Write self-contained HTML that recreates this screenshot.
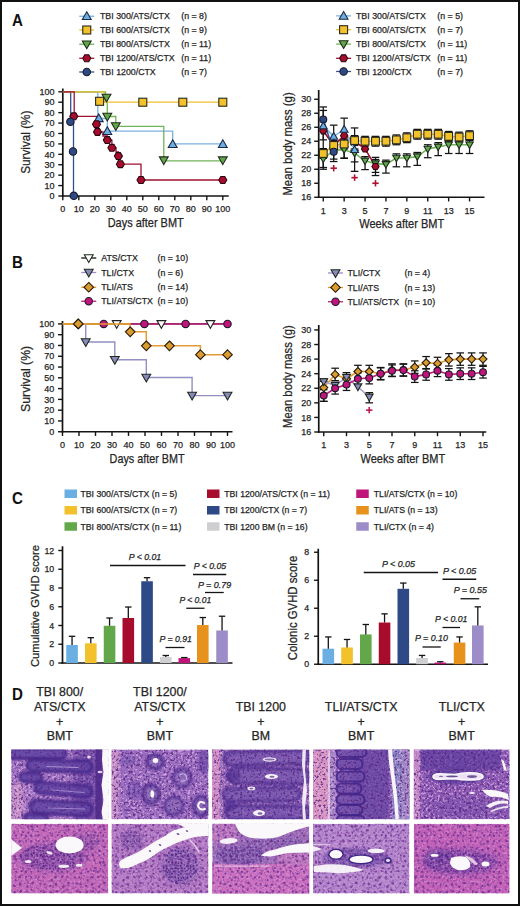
<!DOCTYPE html>
<html><head><meta charset="utf-8"><title>Figure</title>
<style>
html,body{margin:0;padding:0;background:#fff;}
body{width:520px;height:906px;overflow:hidden;}
svg{display:block;font-family:"Liberation Sans", sans-serif;}
text{stroke:#2a2a2a;stroke-width:0.25px;}
</style></head>
<body>
<svg width="520" height="906" viewBox="0 0 520 906">
<defs>
<filter id="dk" color-interpolation-filters="sRGB" filterUnits="userSpaceOnUse" x="0" y="740" width="520" height="160">
<feTurbulence type="fractalNoise" baseFrequency="0.42" numOctaves="2" seed="4"/>
<feColorMatrix type="matrix" values="0 0 0 0 0.34  0 0 0 0 0.15  0 0 0 0 0.5  6 0 0 0 -3.2"/><feGaussianBlur stdDeviation="0.7"/></filter>
<filter id="lt" color-interpolation-filters="sRGB" filterUnits="userSpaceOnUse" x="0" y="740" width="520" height="160">
<feTurbulence type="fractalNoise" baseFrequency="0.42" numOctaves="2" seed="11"/>
<feColorMatrix type="matrix" values="0 0 0 0 0.88  0 0 0 0 0.72  0 0 0 0 0.9  6 0 0 0 -3.1"/><feGaussianBlur stdDeviation="0.7"/></filter>
<filter id="dk2" color-interpolation-filters="sRGB" filterUnits="userSpaceOnUse" x="0" y="740" width="520" height="160">
<feTurbulence type="fractalNoise" baseFrequency="0.4" numOctaves="2" seed="21"/>
<feColorMatrix type="matrix" values="0 0 0 0 0.44  0 0 0 0 0.2  0 0 0 0 0.58  7 0 0 0 -3.7"/><feGaussianBlur stdDeviation="0.6"/></filter>
<pattern id="hep" patternUnits="userSpaceOnUse" x="0" y="0" width="36" height="36"><g fill="#6a2c8e"><circle cx="1.6" cy="3.6" r="0.93"/><circle cx="37.6" cy="3.6" r="0.93"/><circle cx="2.5" cy="7.2" r="1.13"/><circle cx="2.7" cy="13.3" r="0.94"/><circle cx="4.3" cy="19.5" r="1.00"/><circle cx="4.8" cy="27.3" r="1.08"/><circle cx="1.2" cy="34.4" r="1.03"/><circle cx="1.2" cy="-1.6" r="1.03"/><circle cx="37.2" cy="-1.6" r="1.03"/><circle cx="37.2" cy="34.4" r="1.03"/><circle cx="7.5" cy="2.2" r="1.27"/><circle cx="9.3" cy="9.6" r="1.07"/><circle cx="7.3" cy="13.2" r="0.99"/><circle cx="8.7" cy="20.3" r="1.16"/><circle cx="8.2" cy="28.2" r="1.21"/><circle cx="9.3" cy="33.1" r="1.29"/><circle cx="14.2" cy="4.9" r="0.95"/><circle cx="16.0" cy="7.6" r="1.12"/><circle cx="15.7" cy="16.1" r="1.16"/><circle cx="14.3" cy="21.8" r="1.17"/><circle cx="14.8" cy="28.4" r="1.33"/><circle cx="15.7" cy="31.2" r="1.22"/><circle cx="23.0" cy="4.3" r="1.03"/><circle cx="21.7" cy="7.1" r="1.11"/><circle cx="19.5" cy="13.2" r="1.25"/><circle cx="20.0" cy="20.6" r="1.29"/><circle cx="20.8" cy="27.2" r="1.30"/><circle cx="22.5" cy="32.1" r="1.09"/><circle cx="28.5" cy="4.8" r="0.97"/><circle cx="25.9" cy="7.9" r="1.12"/><circle cx="26.1" cy="13.0" r="1.09"/><circle cx="27.3" cy="22.8" r="1.21"/><circle cx="27.5" cy="27.7" r="0.92"/><circle cx="28.1" cy="34.5" r="1.26"/><circle cx="28.1" cy="-1.5" r="1.26"/><circle cx="32.6" cy="1.4" r="1.19"/><circle cx="32.6" cy="37.4" r="1.19"/><circle cx="31.3" cy="7.8" r="0.97"/><circle cx="31.2" cy="13.0" r="0.97"/><circle cx="32.5" cy="19.1" r="1.29"/><circle cx="31.6" cy="26.0" r="1.06"/><circle cx="31.5" cy="34.4" r="1.35"/><circle cx="31.5" cy="-1.6" r="1.35"/></g></pattern>
<filter id="b04" filterUnits="userSpaceOnUse" x="0" y="740" width="520" height="160"><feGaussianBlur stdDeviation="0.45"/></filter>
<pattern id="inf" patternUnits="userSpaceOnUse" x="0" y="0" width="27" height="27"><g fill="#44207e"><circle cx="1.6" cy="2.3" r="0.84"/><circle cx="28.6" cy="2.3" r="0.84"/><circle cx="1.7" cy="3.9" r="0.85"/><circle cx="28.7" cy="3.9" r="0.85"/><circle cx="2.1" cy="6.7" r="0.79"/><circle cx="1.9" cy="12.6" r="0.99"/><circle cx="28.9" cy="12.6" r="0.99"/><circle cx="1.8" cy="16.7" r="0.75"/><circle cx="28.8" cy="16.7" r="0.75"/><circle cx="0.6" cy="21.9" r="0.77"/><circle cx="27.6" cy="21.9" r="0.77"/><circle cx="4.4" cy="2.2" r="0.86"/><circle cx="4.5" cy="4.8" r="0.84"/><circle cx="5.5" cy="8.5" r="0.95"/><circle cx="4.1" cy="10.0" r="0.79"/><circle cx="4.3" cy="17.2" r="0.82"/><circle cx="5.2" cy="18.5" r="0.76"/><circle cx="4.4" cy="23.5" r="0.82"/><circle cx="8.1" cy="1.0" r="0.73"/><circle cx="8.1" cy="28.0" r="0.73"/><circle cx="8.4" cy="5.0" r="0.74"/><circle cx="6.7" cy="6.6" r="0.94"/><circle cx="7.6" cy="10.4" r="0.76"/><circle cx="6.8" cy="13.8" r="0.73"/><circle cx="6.9" cy="16.0" r="0.99"/><circle cx="7.1" cy="20.3" r="0.76"/><circle cx="8.2" cy="22.8" r="0.73"/><circle cx="6.9" cy="25.0" r="0.93"/><circle cx="6.9" cy="-2.0" r="0.93"/><circle cx="10.1" cy="0.6" r="0.73"/><circle cx="10.1" cy="27.6" r="0.73"/><circle cx="10.0" cy="4.7" r="0.81"/><circle cx="11.4" cy="7.5" r="0.87"/><circle cx="9.9" cy="9.8" r="0.97"/><circle cx="10.0" cy="12.9" r="0.92"/><circle cx="9.9" cy="17.4" r="0.96"/><circle cx="10.3" cy="18.7" r="0.71"/><circle cx="10.0" cy="22.9" r="0.78"/><circle cx="10.7" cy="25.1" r="0.75"/><circle cx="10.7" cy="-1.9" r="0.75"/><circle cx="12.6" cy="1.0" r="0.87"/><circle cx="12.6" cy="28.0" r="0.87"/><circle cx="13.7" cy="4.1" r="0.98"/><circle cx="12.5" cy="7.0" r="0.83"/><circle cx="13.2" cy="13.6" r="0.74"/><circle cx="14.3" cy="17.5" r="0.90"/><circle cx="13.7" cy="18.8" r="0.71"/><circle cx="13.9" cy="26.4" r="0.71"/><circle cx="13.9" cy="-0.6" r="0.71"/><circle cx="16.5" cy="2.0" r="0.80"/><circle cx="16.5" cy="29.0" r="0.80"/><circle cx="15.7" cy="4.6" r="0.92"/><circle cx="17.0" cy="7.9" r="0.94"/><circle cx="16.2" cy="10.9" r="0.97"/><circle cx="16.3" cy="14.1" r="0.96"/><circle cx="16.7" cy="16.3" r="0.87"/><circle cx="15.7" cy="19.8" r="1.00"/><circle cx="17.0" cy="22.3" r="0.92"/><circle cx="16.4" cy="26.2" r="0.73"/><circle cx="16.4" cy="-0.8" r="0.73"/><circle cx="18.6" cy="1.7" r="0.84"/><circle cx="18.6" cy="28.7" r="0.84"/><circle cx="19.9" cy="4.5" r="0.88"/><circle cx="19.0" cy="6.5" r="0.79"/><circle cx="18.9" cy="9.8" r="0.97"/><circle cx="19.4" cy="14.3" r="0.80"/><circle cx="18.9" cy="16.4" r="0.94"/><circle cx="20.3" cy="19.3" r="0.87"/><circle cx="18.8" cy="22.5" r="0.95"/><circle cx="19.9" cy="26.4" r="0.78"/><circle cx="19.9" cy="-0.6" r="0.78"/><circle cx="22.4" cy="1.1" r="0.76"/><circle cx="22.4" cy="28.1" r="0.76"/><circle cx="22.8" cy="4.5" r="0.79"/><circle cx="23.5" cy="7.4" r="0.72"/><circle cx="21.6" cy="13.9" r="0.87"/><circle cx="23.1" cy="15.5" r="0.74"/><circle cx="21.5" cy="20.2" r="0.77"/><circle cx="25.4" cy="1.8" r="0.90"/><circle cx="-1.6" cy="1.8" r="0.90"/><circle cx="-1.6" cy="28.8" r="0.90"/><circle cx="25.4" cy="28.8" r="0.90"/><circle cx="26.4" cy="4.9" r="0.76"/><circle cx="-0.6" cy="4.9" r="0.76"/><circle cx="24.9" cy="6.5" r="0.84"/><circle cx="24.9" cy="10.0" r="0.80"/><circle cx="25.5" cy="13.7" r="0.93"/><circle cx="-1.5" cy="13.7" r="0.93"/><circle cx="26.1" cy="17.3" r="0.73"/><circle cx="-0.9" cy="17.3" r="0.73"/><circle cx="25.9" cy="18.8" r="0.84"/><circle cx="-1.1" cy="18.8" r="0.84"/><circle cx="26.3" cy="22.3" r="0.87"/><circle cx="-0.7" cy="22.3" r="0.87"/><circle cx="26.1" cy="26.4" r="0.84"/><circle cx="-0.9" cy="-0.6" r="0.84"/><circle cx="-0.9" cy="26.4" r="0.84"/><circle cx="26.1" cy="-0.6" r="0.84"/></g></pattern>
<filter id="b05" filterUnits="userSpaceOnUse" x="0" y="740" width="520" height="160"><feGaussianBlur stdDeviation="0.6"/></filter>
<filter id="bl1" filterUnits="userSpaceOnUse" x="0" y="740" width="520" height="160"><feGaussianBlur stdDeviation="1.2"/></filter>
<filter id="bl2" filterUnits="userSpaceOnUse" x="0" y="740" width="520" height="160"><feGaussianBlur stdDeviation="2.5"/></filter>
<clipPath id="cp00"><rect x="11.25" y="749.5" width="96.95" height="69.70"/></clipPath>
<clipPath id="cp10"><rect x="111.5" y="749.5" width="96.90" height="69.70"/></clipPath>
<clipPath id="cp20"><rect x="212.3" y="749.5" width="97.00" height="69.70"/></clipPath>
<clipPath id="cp30"><rect x="313.0" y="749.5" width="96.40" height="69.70"/></clipPath>
<clipPath id="cp40"><rect x="413.8" y="749.5" width="95.80" height="69.70"/></clipPath>
<clipPath id="cp01"><rect x="11.25" y="823.8" width="96.95" height="69.70"/></clipPath>
<clipPath id="cp11"><rect x="111.5" y="823.8" width="96.90" height="69.70"/></clipPath>
<clipPath id="cp21"><rect x="212.3" y="823.8" width="97.00" height="69.70"/></clipPath>
<clipPath id="cp31"><rect x="313.0" y="823.8" width="96.40" height="69.70"/></clipPath>
<clipPath id="cp41"><rect x="413.8" y="823.8" width="95.80" height="69.70"/></clipPath>
</defs>
<rect x="0" y="0" width="520" height="906" fill="#111"/>
<rect x="2" y="2" width="516" height="902" fill="#ffffff"/>
<g clip-path="url(#cp00)">
<rect x="11.25" y="749.5" width="96.95" height="69.70" fill="#a072c2"/>
<rect x="11" y="782" width="12" height="40" fill="#cc94c8" opacity="0.9" filter="url(#bl2)"/>
<rect x="76" y="749" width="26" height="71" fill="#7048a4" opacity="0.6" filter="url(#bl1)"/>
<rect x="11.25" y="749.5" width="96.95" height="69.70" filter="url(#lt)" opacity="0.7"/>
<rect x="72" y="749" width="28" height="71" fill="#6a44a4" opacity="0.55" filter="url(#bl1)"/>
<rect x="8" y="748.5" width="58" height="10" rx="5.0" fill="#6446a6" stroke="#3e2088" stroke-width="3" opacity="0.9" transform="rotate(0 37.0 753.5)" filter="url(#bl1)"/>
<rect x="27" y="760.5" width="65" height="11" rx="5.5" fill="#6446a6" stroke="#3e2088" stroke-width="3" opacity="0.9" transform="rotate(1.5 59.5 766)" filter="url(#bl1)"/>
<rect x="20" y="773.0" width="22" height="9" rx="4.5" fill="#6446a6" stroke="#3e2088" stroke-width="3" opacity="0.9" transform="rotate(3 31.0 777.5)" filter="url(#bl1)"/>
<rect x="35" y="784.0" width="57" height="11" rx="5.5" fill="#6446a6" stroke="#3e2088" stroke-width="3" opacity="0.9" transform="rotate(5 63.5 789.5)" filter="url(#bl1)"/>
<rect x="30" y="801.5" width="62" height="13" rx="6.5" fill="#6446a6" stroke="#3e2088" stroke-width="3" opacity="0.9" transform="rotate(3 61.0 808)" filter="url(#bl1)"/>
<rect x="24" y="814.5" width="24" height="8" rx="4.0" fill="#6446a6" stroke="#3e2088" stroke-width="3" opacity="0.9" transform="rotate(2 36.0 818.5)" filter="url(#bl1)"/>
<rect x="95.5" y="749" width="7" height="71" fill="#4e2a8a" opacity="0.85" filter="url(#b05)"/>
<rect x="11.25" y="749.5" width="96.95" height="69.70" filter="url(#dk)" opacity="0.75"/>
<path d="M102.5,749 L109,749 L109,820 L103,820 L101.5,812 L103.5,800 L101.5,785 L103.5,772 L102,760 Z" fill="#fbf8fc" opacity="1"/>
<path d="M47,766.5 L78,767.5" fill="none" stroke="#c8b0e4" stroke-width="1.2" stroke-linecap="round" opacity="0.7"/>
<path d="M52,790 L84,792.5" fill="none" stroke="#c8b0e4" stroke-width="1.2" stroke-linecap="round" opacity="0.55"/>
<path d="M48,808 L85,809" fill="none" stroke="#c8b0e4" stroke-width="1.2" stroke-linecap="round" opacity="0.55"/>
<ellipse cx="89" cy="757" rx="1.8" ry="1.5" fill="#fbf8fc" opacity="0.8"/>
<ellipse cx="100" cy="772" rx="2.5" ry="1.2" fill="#fbf8fc" opacity="0.8"/>
</g>
<g clip-path="url(#cp10)">
<rect x="111.5" y="749.5" width="96.90" height="69.70" fill="#9a6cc0"/>
<rect x="111" y="749" width="8" height="71" fill="#cc94c8" opacity="0.9" filter="url(#bl1)"/>
<rect x="111.5" y="749.5" width="96.90" height="69.70" filter="url(#lt)" opacity="0.7"/>
<ellipse cx="155" cy="762" rx="8" ry="7" fill="#8868b8" stroke="#46268c" stroke-width="3.4" opacity="0.8" filter="url(#bl1)"/>
<ellipse cx="182" cy="778" rx="9" ry="9" fill="#8868b8" stroke="#46268c" stroke-width="3.4" opacity="0.7" filter="url(#bl1)"/>
<ellipse cx="151" cy="794" rx="8" ry="9.5" fill="#8868b8" stroke="#46268c" stroke-width="3.4" opacity="0.8" filter="url(#bl1)"/>
<ellipse cx="174" cy="806" rx="9" ry="9" fill="#8868b8" stroke="#46268c" stroke-width="3.4" opacity="0.7" filter="url(#bl1)"/>
<ellipse cx="201" cy="806" rx="8" ry="9.5" fill="#8868b8" stroke="#46268c" stroke-width="3.4" opacity="0.8" filter="url(#bl1)"/>
<ellipse cx="134" cy="790" rx="8" ry="10" fill="#6a48a8" opacity="0.5" filter="url(#bl1)"/>
<ellipse cx="204" cy="762" rx="6" ry="12" fill="#5a3a9c" opacity="0.55" filter="url(#bl1)"/>
<ellipse cx="128" cy="760" rx="8" ry="6" fill="#7050a8" opacity="0.5" filter="url(#bl1)"/>
<rect x="111.5" y="749.5" width="96.90" height="69.70" filter="url(#dk)" opacity="0.8"/>
<ellipse cx="155.5" cy="760.5" rx="2.8" ry="2.5" fill="#fbf8fc" opacity="1"/>
<ellipse cx="152.3" cy="794" rx="1.9" ry="3.8" fill="#fbf8fc" opacity="1"/>
<path d="M204,803 Q199,800 198,806 Q200,811 205,809" fill="none" stroke="#fbf8fc" stroke-width="2.0" stroke-linecap="round" opacity="1"/>
<path d="M180,775 Q184,772 187,777 Q186,782 181,781" fill="none" stroke="#d8c4ec" stroke-width="1.1" stroke-linecap="round" opacity="0.8"/>
</g>
<g clip-path="url(#cp20)">
<rect x="212.3" y="749.5" width="97.00" height="69.70" fill="#9466ba"/>
<rect x="212" y="749" width="7.5" height="71" fill="#d48ec4" opacity="0.95" filter="url(#b05)"/>
<rect x="219" y="749" width="4" height="71" fill="#b080c0" opacity="0.6" filter="url(#b05)"/>
<rect x="212.3" y="749.5" width="97.00" height="69.70" filter="url(#lt)" opacity="0.7"/>
<rect x="224" y="751.5" width="86" height="13" rx="6.5" fill="#7454ae" stroke="#3e2088" stroke-width="3" opacity="0.75" transform="rotate(-1 267.0 758)" filter="url(#bl1)"/>
<rect x="228" y="768.5" width="82" height="15" rx="7.5" fill="#7454ae" stroke="#3e2088" stroke-width="3" opacity="0.75" transform="rotate(1 269.0 776)" filter="url(#bl1)"/>
<rect x="223" y="788.0" width="77" height="13" rx="6.5" fill="#7454ae" stroke="#3e2088" stroke-width="3" opacity="0.75" transform="rotate(-1 261.5 794.5)" filter="url(#bl1)"/>
<rect x="226" y="806.0" width="84" height="13" rx="6.5" fill="#7454ae" stroke="#3e2088" stroke-width="3" opacity="0.75" transform="rotate(0 268.0 812.5)" filter="url(#bl1)"/>
<ellipse cx="233" cy="776" rx="8" ry="6" fill="#4a2a90" opacity="0.55" filter="url(#bl1)"/>
<ellipse cx="230" cy="806" rx="7" ry="6" fill="#4a2a90" opacity="0.55" filter="url(#bl1)"/>
<rect x="212.3" y="749.5" width="97.00" height="69.70" filter="url(#dk)" opacity="0.8"/>
<ellipse cx="269.6" cy="759.5" rx="7" ry="2.2" fill="#f4eef8" opacity="0.95"/>
<ellipse cx="269.6" cy="759.5" rx="5" ry="0.9" fill="#5a3a90" opacity="0.7"/>
<ellipse cx="271.5" cy="776.5" rx="6.5" ry="2.6" fill="#fbf8fc" opacity="0.97"/>
<ellipse cx="272" cy="776.8" rx="2.5" ry="1" fill="#4a2a80" opacity="0.7"/>
<ellipse cx="251.3" cy="788.4" rx="4" ry="1.9" fill="#f4eef8" opacity="0.95"/>
<ellipse cx="251.3" cy="788.6" rx="2" ry="0.8" fill="#4a2a80" opacity="0.7"/>
<ellipse cx="259" cy="813" rx="6" ry="3" fill="#fbf8fc" opacity="0.97"/>
<ellipse cx="260" cy="813.5" rx="2.5" ry="1.3" fill="#4a2a80" opacity="0.7"/>
<path d="M302.5,749 L306,749 L305,770 L307,790 L305,808 L306,820 L303,820 L302,800 L304,780 L302,765 Z" fill="#fbf8fc" opacity="0.9"/>
</g>
<g clip-path="url(#cp30)">
<rect x="313.0" y="749.5" width="96.40" height="69.70" fill="#8c5eb6"/>
<rect x="313" y="749" width="16" height="71" fill="#da94c2" opacity="1" filter="url(#b05)"/>
<rect x="330" y="749" width="6" height="71" fill="#ac8ccc" opacity="0.9" filter="url(#b05)"/>
<rect x="392" y="749" width="18" height="71" fill="#8a84c4" opacity="0.95" filter="url(#b05)"/>
<rect x="402" y="749" width="8" height="71" fill="#a484c4" opacity="0.8" filter="url(#b05)"/>
<rect x="313.0" y="749.5" width="96.40" height="69.70" filter="url(#lt)" opacity="0.7"/>
<rect x="352" y="749" width="37" height="71" fill="#6644a2" opacity="0.75" filter="url(#bl1)"/>
<rect x="336.5" y="747" width="30" height="10" rx="5" fill="#7050aa" stroke="#3e2288" stroke-width="2.2" opacity="0.8" filter="url(#b05)"/>
<rect x="336.5" y="759" width="26" height="10" rx="5" fill="#7050aa" stroke="#3e2288" stroke-width="2.2" opacity="0.8" filter="url(#b05)"/>
<rect x="336.5" y="771.5" width="28" height="10" rx="5" fill="#7050aa" stroke="#3e2288" stroke-width="2.2" opacity="0.8" filter="url(#b05)"/>
<rect x="336.5" y="783.5" width="25" height="10" rx="5" fill="#7050aa" stroke="#3e2288" stroke-width="2.2" opacity="0.8" filter="url(#b05)"/>
<rect x="336.5" y="794.5" width="28" height="10" rx="5" fill="#7050aa" stroke="#3e2288" stroke-width="2.2" opacity="0.8" filter="url(#b05)"/>
<rect x="336.5" y="805" width="26" height="10" rx="5" fill="#7050aa" stroke="#3e2288" stroke-width="2.2" opacity="0.8" filter="url(#b05)"/>
<rect x="336.5" y="815.5" width="28" height="10" rx="5" fill="#7050aa" stroke="#3e2288" stroke-width="2.2" opacity="0.8" filter="url(#b05)"/>
<rect x="313.0" y="749.5" width="96.40" height="69.70" filter="url(#dk)" opacity="0.8"/>
<rect x="328.3" y="749" width="1.6" height="71" fill="#f4eaf4" opacity="0.8"/>
<path d="M388,749 L392,749 L394,770 L397,795 L399,820 L395.5,820 L394,800 L391.5,780 L389,762 Z" fill="#fbf8fc" opacity="0.97"/>
</g>
<g clip-path="url(#cp40)">
<rect x="413.8" y="749.5" width="95.80" height="69.70" fill="#8c5ab4"/>
<rect x="413" y="749" width="7" height="71" fill="#c98cc8" opacity="0.9" filter="url(#b05)"/>
<rect x="413.8" y="749.5" width="95.80" height="69.70" filter="url(#lt)" opacity="0.7"/>
<rect x="421" y="749" width="80" height="21" fill="#5c3a9e" opacity="0.7" filter="url(#bl1)"/>
<ellipse cx="457" cy="776" rx="30" ry="8" fill="#583a9c" opacity="0.7" filter="url(#bl1)"/>
<ellipse cx="470" cy="808" rx="40" ry="10" fill="#7650ac" opacity="0.45" filter="url(#bl2)"/>
<rect x="413.8" y="749.5" width="95.80" height="69.70" filter="url(#dk)" opacity="0.8"/>
<path d="M433,776.5 Q433,773.6 440,773.8 L455,774.6 Q462,772.6 470,772.8 Q483,773 483,776.5 Q483,780 470,780 Q462,780.2 455,778.6 L440,779.2 Q433,779.5 433,776.5 Z" fill="#ece2f4" stroke="#fbf8fc" stroke-width="1.6"/>
<ellipse cx="452" cy="776.4" rx="6" ry="0.8" fill="#3a1a70" opacity="0.75"/>
<ellipse cx="472" cy="776.6" rx="5" ry="1.4" fill="#4a2a80" opacity="0.75"/>
<ellipse cx="441" cy="776.4" rx="2" ry="0.7" fill="#3a1a70" opacity="0.6"/>
<path d="M482,790 Q496,789 508,794 L509,800 Q500,796 492,797 Q487,796 482,790 Z" fill="#fbf8fc" opacity="1"/>
<path d="M486,806 Q496,799 508,801 L508,804 Q499,802 490,808 Z" fill="#fbf8fc" opacity="0.95"/>
<path d="M490,811 Q500,806 508,806 L508,808 Q500,808 492,812 Z" fill="#fbf8fc" opacity="0.85"/>
<path d="M501,759 L504,761 L507,771 L504,770 Z" fill="#fbf8fc" opacity="1"/>
<ellipse cx="472" cy="793" rx="3" ry="1" fill="#fbf8fc" opacity="0.9"/>
</g>
<g clip-path="url(#cp01)">
<rect x="11.25" y="823.8" width="96.95" height="69.70" fill="#c468b8"/>
<ellipse cx="52" cy="857" rx="34" ry="14" fill="#7a4ca6" opacity="0.55" filter="url(#bl2)"/>
<ellipse cx="85" cy="842" rx="16" ry="9" fill="#8c5aac" opacity="0.45" filter="url(#bl2)"/>
<rect x="11.25" y="823.8" width="96.95" height="69.70" filter="url(#lt)" opacity="0.35"/>
<rect x="11.25" y="823.8" width="96.95" height="69.70" filter="url(#dk2)" opacity="0.45"/>
<rect x="11.25" y="823.8" width="96.95" height="69.70" fill="url(#hep)" opacity="0.75" filter="url(#b04)"/>
<ellipse cx="52" cy="857" rx="33" ry="13" fill="url(#inf)" opacity="0.75" filter="url(#b04)"/>
<ellipse cx="85" cy="842" rx="14" ry="8" fill="url(#inf)" opacity="0.5" filter="url(#b04)"/>
<ellipse cx="69.6" cy="845" rx="14" ry="8.4" fill="#fbf8fc" opacity="1"/>
<path d="M11,839 L22,848 L11,856 Z" fill="#fbf8fc" opacity="1"/>
<ellipse cx="28.3" cy="861.4" rx="3.3" ry="1.5" fill="#fbf8fc" opacity="0.9"/>
<ellipse cx="49.4" cy="852.8" rx="3.3" ry="1.3" fill="#fbf8fc" opacity="0.9" transform="rotate(20 49.4 852.8)"/>
<ellipse cx="63.8" cy="866.2" rx="5.5" ry="1.7" fill="#fbf8fc" opacity="0.9"/>
<ellipse cx="79.2" cy="865.3" rx="3.3" ry="1.5" fill="#fbf8fc" opacity="0.9"/>
</g>
<g clip-path="url(#cp11)">
<rect x="111.5" y="823.8" width="96.90" height="69.70" fill="#b47cc4"/>
<ellipse cx="180" cy="866" rx="19" ry="19" fill="#7050a8" opacity="0.5" filter="url(#bl2)"/>
<ellipse cx="132" cy="840" rx="12" ry="11" fill="#7e56aa" opacity="0.5" filter="url(#bl2)"/>
<rect x="111.5" y="823.8" width="96.90" height="69.70" filter="url(#lt)" opacity="0.35"/>
<rect x="111.5" y="823.8" width="96.90" height="69.70" filter="url(#dk2)" opacity="0.45"/>
<rect x="111.5" y="823.8" width="96.90" height="69.70" fill="url(#hep)" opacity="0.75" filter="url(#b04)"/>
<ellipse cx="180" cy="866" rx="18" ry="18" fill="url(#inf)" opacity="0.8" filter="url(#b04)"/>
<ellipse cx="132" cy="840" rx="11" ry="10" fill="url(#inf)" opacity="0.5" filter="url(#b04)"/>
<path d="M121,868.5 Q117,864 121,860 Q127,857 133,854.6 Q139,852 143.7,848.8 Q149,845.5 154.2,842.1 Q160,838.5 165.8,835.4 Q170,832.5 173.5,830.6 Q178,828.5 183,827.7 Q188,826.5 192.7,825.8 Q200,825 209,823.5 L209,836 Q202,836 195,837 Q190,838 185,840 Q178,842 172,845 Q166,848 160,851 Q155,854.5 150,858 Q145,861 140,863 Q134,866 128,868 Z" fill="#fbf8fc" opacity="1"/>
<path d="M178,824 L209,824 L209,827 Q196,828 186,828 Z" fill="#fbf8fc" opacity="1"/>
<ellipse cx="150" cy="851" rx="1.2" ry="0.8" fill="#4a2a80" opacity="0.8" transform="rotate(30 150 851)"/>
<ellipse cx="160" cy="845" rx="1.4" ry="0.8" fill="#4a2a80" opacity="0.8" transform="rotate(30 160 845)"/>
<ellipse cx="178" cy="834" rx="1.5" ry="0.9" fill="#4a2a80" opacity="0.8" transform="rotate(20 178 834)"/>
<ellipse cx="187" cy="831" rx="1.2" ry="0.8" fill="#4a2a80" opacity="0.8" transform="rotate(20 187 831)"/>
<path d="M190,840 Q196,846 199,852" fill="none" stroke="#f4ecf6" stroke-width="1.2" stroke-linecap="round" opacity="0.8"/>
</g>
<g clip-path="url(#cp21)">
<rect x="212.3" y="823.8" width="97.00" height="69.70" fill="#a070ba"/>
<rect x="212" y="864" width="98" height="30" fill="#cc70c0" opacity="1" filter="url(#b05)"/>
<rect x="278" y="852" width="32" height="13" fill="#c47ac0" opacity="0.9" filter="url(#bl1)"/>
<rect x="212" y="823" width="24" height="18" fill="#c07ac0" opacity="0.9" filter="url(#bl1)"/>
<ellipse cx="240" cy="855" rx="26" ry="10" fill="#7a5aae" opacity="0.6" filter="url(#bl1)"/>
<ellipse cx="275" cy="843" rx="35" ry="6" fill="#8a68b4" opacity="0.5" filter="url(#bl1)"/>
<rect x="212.3" y="823.8" width="97.00" height="69.70" filter="url(#lt)" opacity="0.35"/>
<rect x="212.3" y="823.8" width="97.00" height="69.70" filter="url(#dk2)" opacity="0.45"/>
<rect x="212.3" y="823.8" width="97.00" height="69.70" fill="url(#hep)" opacity="0.75" filter="url(#b04)"/>
<ellipse cx="240" cy="855" rx="24" ry="9" fill="url(#inf)" opacity="0.65" filter="url(#b04)"/>
<ellipse cx="275" cy="843" rx="30" ry="5" fill="url(#inf)" opacity="0.45" filter="url(#b04)"/>
<path d="M234.5,823 L310,823 L310,826 Q298,829 288,833 Q278,838 268,838.6 Q256,839 249,837.6 Q242,835 239,831.8 Z" fill="#fbf8fc" opacity="1"/>
<path d="M261,855.5 Q266,851 275,849.4 Q285,846 294,844.5 L310,843 L310,852.4 Q298,852.5 288,853 Q280,854.5 272.7,856.3 Q266,857 261,855.5 Z" fill="#fbf8fc" opacity="1"/>
<ellipse cx="228.6" cy="841" rx="9" ry="2.8" fill="#fbf8fc" opacity="0.95" transform="rotate(-5 228.6 841)"/>
<rect x="214" y="865.5" width="55" height="1.2" fill="#f4e4f4" opacity="0.7"/>
</g>
<g clip-path="url(#cp31)">
<rect x="313.0" y="823.8" width="96.40" height="69.70" fill="#b486cc"/>
<ellipse cx="356" cy="858" rx="34" ry="10" fill="#6a4aa6" opacity="0.6" filter="url(#bl1)"/>
<rect x="313.0" y="823.8" width="96.40" height="69.70" filter="url(#lt)" opacity="0.35"/>
<rect x="313.0" y="823.8" width="96.40" height="69.70" filter="url(#dk2)" opacity="0.45"/>
<rect x="313.0" y="823.8" width="96.40" height="69.70" fill="url(#hep)" opacity="0.75" filter="url(#b04)"/>
<ellipse cx="356" cy="858" rx="32" ry="9" fill="url(#inf)" opacity="0.55" filter="url(#b04)"/>
<ellipse cx="336" cy="854.2" rx="7.8" ry="5.6" fill="#3a2282" opacity="0.9"/>
<ellipse cx="336" cy="854.2" rx="6.3" ry="4.3" fill="#fbf8fc" opacity="1"/>
<ellipse cx="361" cy="859.4" rx="13" ry="5" fill="#3a2282" opacity="0.9"/>
<ellipse cx="361" cy="859.4" rx="11.3" ry="3.7" fill="#fbf8fc" opacity="1"/>
<ellipse cx="376" cy="850.8" rx="8.5" ry="2.3" fill="#fbf8fc" opacity="0.95"/>
<ellipse cx="388" cy="860.4" rx="3.6" ry="3.2" fill="#3a2282" opacity="0.9"/>
<ellipse cx="388" cy="860.4" rx="2" ry="1.6" fill="#e8dcf0" opacity="1"/>
<path d="M314,866 Q330,863 345,865 Q356,867 364,870 Q350,874 335,873 Q322,872 314,872 Z" fill="#fbf8fc" opacity="0.92"/>
<path d="M313,846 L322,849 L313,852 Z" fill="#fbf8fc" opacity="0.9"/>
<rect x="313" y="844.2" width="17" height="1" fill="#f0e4f4" opacity="0.8"/>
</g>
<g clip-path="url(#cp41)">
<rect x="413.8" y="823.8" width="95.80" height="69.70" fill="#c462b8"/>
<ellipse cx="460" cy="862" rx="38" ry="13" fill="#7848a8" opacity="0.6" filter="url(#bl2)"/>
<ellipse cx="437" cy="857" rx="14" ry="9" fill="#6a44a4" opacity="0.5" filter="url(#bl2)"/>
<rect x="413.8" y="823.8" width="95.80" height="69.70" filter="url(#lt)" opacity="0.35"/>
<rect x="413.8" y="823.8" width="95.80" height="69.70" filter="url(#dk2)" opacity="0.45"/>
<rect x="413.8" y="823.8" width="95.80" height="69.70" fill="url(#hep)" opacity="0.75" filter="url(#b04)"/>
<ellipse cx="460" cy="862" rx="36" ry="12" fill="url(#inf)" opacity="0.65" filter="url(#b04)"/>
<ellipse cx="437" cy="857" rx="12" ry="8" fill="url(#inf)" opacity="0.5" filter="url(#b04)"/>
<path d="M451,858 Q458,855 466,857 Q471,861 470,867 Q466,871 458,870 Q451,868 450,863 Z" fill="#fbf8fc" opacity="1"/>
<ellipse cx="485.5" cy="864" rx="4" ry="2.5" fill="#fbf8fc" opacity="1"/>
<ellipse cx="434.5" cy="855.3" rx="4" ry="1.5" fill="#fbf8fc" opacity="1"/>
<path d="M464,855 L472,858 L478,864 L475,865 L468,859 Z" fill="#f4e8f4" opacity="0.8"/>
</g>
<line x1="79.25" y1="16.25" x2="94.25" y2="16.25" stroke="#7ab0e0" stroke-width="1.3"/>
<path d="M86.75,11.85 L91.15,19.55 L82.35,19.55 Z" fill="#6aaee2" stroke="#1b2a48" stroke-width="1.1" stroke-linejoin="miter"/>
<text x="100.00" y="19.35" font-size="8.8" fill="#222">TBI 300/ATS/CTX</text>
<text x="181.25" y="19.35" font-size="8.8" fill="#222">(n = 8)</text>
<line x1="79.25" y1="30.00" x2="94.25" y2="30.00" stroke="#f0c030" stroke-width="1.3"/>
<rect x="82.75" y="26.00" width="8.00" height="8.00" fill="#f2c12c" stroke="#2a2a1a" stroke-width="1.1"/>
<text x="100.00" y="33.10" font-size="8.8" fill="#222">TBI 600/ATS/CTX</text>
<text x="181.25" y="33.10" font-size="8.8" fill="#222">(n = 9)</text>
<line x1="79.25" y1="44.25" x2="94.25" y2="44.25" stroke="#72b45a" stroke-width="1.3"/>
<path d="M86.75,48.65 L91.15,40.95 L82.35,40.95 Z" fill="#62a84a" stroke="#1d2a1a" stroke-width="1.1"/>
<text x="100.00" y="47.35" font-size="8.8" fill="#222">TBI 800/ATS/CTX</text>
<text x="181.25" y="47.35" font-size="8.8" fill="#222">(n = 11)</text>
<line x1="79.25" y1="58.25" x2="94.25" y2="58.25" stroke="#a01030" stroke-width="1.3"/>
<polygon points="90.75,58.25 88.75,61.71 84.75,61.71 82.75,58.25 84.75,54.79 88.75,54.79" fill="#a80c2c" stroke="#2a0a10" stroke-width="1.1"/>
<text x="100.00" y="61.35" font-size="8.8" fill="#222">TBI 1200/ATS/CTX</text>
<text x="181.25" y="61.35" font-size="8.8" fill="#222">(n = 11)</text>
<line x1="79.25" y1="72.00" x2="94.25" y2="72.00" stroke="#34508a" stroke-width="1.3"/>
<circle cx="86.75" cy="72.00" r="3.7" fill="#2d4a86" stroke="#1a1a2a" stroke-width="1.1"/>
<text x="100.00" y="75.10" font-size="8.8" fill="#222">TBI 1200/CTX</text>
<text x="181.25" y="75.10" font-size="8.8" fill="#222">(n = 7)</text>
<line x1="336.10" y1="15.90" x2="351.10" y2="15.90" stroke="#7ab0e0" stroke-width="1.3"/>
<path d="M343.60,11.50 L348.00,19.20 L339.20,19.20 Z" fill="#6aaee2" stroke="#1b2a48" stroke-width="1.1" stroke-linejoin="miter"/>
<text x="356.00" y="19.00" font-size="8.8" fill="#222">TBI 300/ATS/CTX</text>
<text x="437.30" y="19.00" font-size="8.8" fill="#222">(n = 5)</text>
<line x1="336.10" y1="29.70" x2="351.10" y2="29.70" stroke="#f0c030" stroke-width="1.3"/>
<rect x="339.60" y="25.70" width="8.00" height="8.00" fill="#f2c12c" stroke="#2a2a1a" stroke-width="1.1"/>
<text x="356.00" y="32.80" font-size="8.8" fill="#222">TBI 600/ATS/CTX</text>
<text x="437.30" y="32.80" font-size="8.8" fill="#222">(n = 7)</text>
<line x1="336.10" y1="44.10" x2="351.10" y2="44.10" stroke="#72b45a" stroke-width="1.3"/>
<path d="M343.60,48.50 L348.00,40.80 L339.20,40.80 Z" fill="#62a84a" stroke="#1d2a1a" stroke-width="1.1"/>
<text x="356.00" y="47.20" font-size="8.8" fill="#222">TBI 800/ATS/CTX</text>
<text x="437.30" y="47.20" font-size="8.8" fill="#222">(n = 11)</text>
<line x1="336.10" y1="58.30" x2="351.10" y2="58.30" stroke="#a01030" stroke-width="1.3"/>
<polygon points="347.60,58.30 345.60,61.76 341.60,61.76 339.60,58.30 341.60,54.84 345.60,54.84" fill="#a80c2c" stroke="#2a0a10" stroke-width="1.1"/>
<text x="356.00" y="61.40" font-size="8.8" fill="#222">TBI 1200/ATS/CTX</text>
<text x="437.30" y="61.40" font-size="8.8" fill="#222">(n = 11)</text>
<line x1="336.10" y1="71.50" x2="351.10" y2="71.50" stroke="#34508a" stroke-width="1.3"/>
<circle cx="343.60" cy="71.50" r="3.7" fill="#2d4a86" stroke="#1a1a2a" stroke-width="1.1"/>
<text x="356.00" y="74.60" font-size="8.8" fill="#222">TBI 1200/CTX</text>
<text x="437.30" y="74.60" font-size="8.8" fill="#222">(n = 7)</text>
<line x1="62.80" y1="88.50" x2="62.80" y2="196.80" stroke="#141414" stroke-width="1.7"/>
<line x1="62.00" y1="196.00" x2="228.70" y2="196.00" stroke="#141414" stroke-width="1.7"/>
<line x1="58.30" y1="196.00" x2="62.80" y2="196.00" stroke="#141414" stroke-width="1.4"/>
<text x="54.50" y="199.20" font-size="9" text-anchor="end" fill="#222">0</text>
<line x1="58.30" y1="185.58" x2="62.80" y2="185.58" stroke="#141414" stroke-width="1.4"/>
<text x="54.50" y="188.78" font-size="9" text-anchor="end" fill="#222">10</text>
<line x1="58.30" y1="175.16" x2="62.80" y2="175.16" stroke="#141414" stroke-width="1.4"/>
<text x="54.50" y="178.36" font-size="9" text-anchor="end" fill="#222">20</text>
<line x1="58.30" y1="164.74" x2="62.80" y2="164.74" stroke="#141414" stroke-width="1.4"/>
<text x="54.50" y="167.94" font-size="9" text-anchor="end" fill="#222">30</text>
<line x1="58.30" y1="154.32" x2="62.80" y2="154.32" stroke="#141414" stroke-width="1.4"/>
<text x="54.50" y="157.52" font-size="9" text-anchor="end" fill="#222">40</text>
<line x1="58.30" y1="143.90" x2="62.80" y2="143.90" stroke="#141414" stroke-width="1.4"/>
<text x="54.50" y="147.10" font-size="9" text-anchor="end" fill="#222">50</text>
<line x1="58.30" y1="133.48" x2="62.80" y2="133.48" stroke="#141414" stroke-width="1.4"/>
<text x="54.50" y="136.68" font-size="9" text-anchor="end" fill="#222">60</text>
<line x1="58.30" y1="123.06" x2="62.80" y2="123.06" stroke="#141414" stroke-width="1.4"/>
<text x="54.50" y="126.26" font-size="9" text-anchor="end" fill="#222">70</text>
<line x1="58.30" y1="112.64" x2="62.80" y2="112.64" stroke="#141414" stroke-width="1.4"/>
<text x="54.50" y="115.84" font-size="9" text-anchor="end" fill="#222">80</text>
<line x1="58.30" y1="102.22" x2="62.80" y2="102.22" stroke="#141414" stroke-width="1.4"/>
<text x="54.50" y="105.42" font-size="9" text-anchor="end" fill="#222">90</text>
<line x1="58.30" y1="91.80" x2="62.80" y2="91.80" stroke="#141414" stroke-width="1.4"/>
<text x="54.50" y="95.00" font-size="9" text-anchor="end" fill="#222">100</text>
<line x1="62.80" y1="196.00" x2="62.80" y2="200.20" stroke="#141414" stroke-width="1.4"/>
<text x="62.80" y="212.20" font-size="9" text-anchor="middle" fill="#222">0</text>
<line x1="78.80" y1="196.00" x2="78.80" y2="200.20" stroke="#141414" stroke-width="1.4"/>
<text x="78.80" y="212.20" font-size="9" text-anchor="middle" fill="#222">10</text>
<line x1="94.80" y1="196.00" x2="94.80" y2="200.20" stroke="#141414" stroke-width="1.4"/>
<text x="94.80" y="212.20" font-size="9" text-anchor="middle" fill="#222">20</text>
<line x1="110.80" y1="196.00" x2="110.80" y2="200.20" stroke="#141414" stroke-width="1.4"/>
<text x="110.80" y="212.20" font-size="9" text-anchor="middle" fill="#222">30</text>
<line x1="126.80" y1="196.00" x2="126.80" y2="200.20" stroke="#141414" stroke-width="1.4"/>
<text x="126.80" y="212.20" font-size="9" text-anchor="middle" fill="#222">40</text>
<line x1="142.80" y1="196.00" x2="142.80" y2="200.20" stroke="#141414" stroke-width="1.4"/>
<text x="142.80" y="212.20" font-size="9" text-anchor="middle" fill="#222">50</text>
<line x1="158.80" y1="196.00" x2="158.80" y2="200.20" stroke="#141414" stroke-width="1.4"/>
<text x="158.80" y="212.20" font-size="9" text-anchor="middle" fill="#222">60</text>
<line x1="174.80" y1="196.00" x2="174.80" y2="200.20" stroke="#141414" stroke-width="1.4"/>
<text x="174.80" y="212.20" font-size="9" text-anchor="middle" fill="#222">70</text>
<line x1="190.80" y1="196.00" x2="190.80" y2="200.20" stroke="#141414" stroke-width="1.4"/>
<text x="190.80" y="212.20" font-size="9" text-anchor="middle" fill="#222">80</text>
<line x1="206.80" y1="196.00" x2="206.80" y2="200.20" stroke="#141414" stroke-width="1.4"/>
<text x="206.80" y="212.20" font-size="9" text-anchor="middle" fill="#222">90</text>
<line x1="222.80" y1="196.00" x2="222.80" y2="200.20" stroke="#141414" stroke-width="1.4"/>
<text x="222.80" y="212.20" font-size="9" text-anchor="middle" fill="#222">100</text>
<text x="145.70" y="226.90" font-size="12.6" text-anchor="middle" textLength="76" lengthAdjust="spacingAndGlyphs" fill="#222">Days after BMT</text>
<text x="30.50" y="142.20" font-size="12.6" text-anchor="middle" textLength="63.2" lengthAdjust="spacingAndGlyphs" transform="rotate(-90 30.5 142.2)" fill="#222">Survival (%)</text>
<path d="M62.8,91.8 H97.8 V118.5 H107.3 V131.2 H172.7 V143.8 H222.8" stroke="#7ab0e0" stroke-width="1.3" fill="none"/>
<path d="M62.8,91.8 H105.5 V99.8 H107.3 V116.5 H115.8 V126.3 H163.8 V160.8 H222.8" stroke="#72b45a" stroke-width="1.3" fill="none"/>
<path d="M62.8,91.8 H70.7 V121.8 H73.5 V196" stroke="#34508a" stroke-width="1.3" fill="none"/>
<path d="M62.8,91.8 H104.2 V102.22 H222.8" stroke="#f0c030" stroke-width="1.3" fill="none"/>
<path d="M62.8,91.8 H74.2 V116.3 H96.5 V124.2 V131.9 H103 V136 H107.3 V140.1 H111.9 V147.8 H116 V152 H118.4 V156.1 V164.2 H141 V180 H222.8" stroke="#a01030" stroke-width="1.3" fill="none"/>
<path d="M106.50,101.90 L110.90,94.20 L102.10,94.20 Z" fill="#62a84a" stroke="#1d2a1a" stroke-width="1.1"/>
<rect x="95.60" y="97.30" width="8.00" height="8.00" fill="#f2c12c" stroke="#2a2a1a" stroke-width="1.1"/>
<rect x="138.80" y="98.22" width="8.00" height="8.00" fill="#f2c12c" stroke="#2a2a1a" stroke-width="1.1"/>
<rect x="178.80" y="98.22" width="8.00" height="8.00" fill="#f2c12c" stroke="#2a2a1a" stroke-width="1.1"/>
<rect x="218.80" y="98.22" width="8.00" height="8.00" fill="#f2c12c" stroke="#2a2a1a" stroke-width="1.1"/>
<path d="M98.80,113.90 L103.20,121.60 L94.40,121.60 Z" fill="#6aaee2" stroke="#1b2a48" stroke-width="1.1" stroke-linejoin="miter"/>
<path d="M107.30,126.80 L111.70,134.50 L102.90,134.50 Z" fill="#6aaee2" stroke="#1b2a48" stroke-width="1.1" stroke-linejoin="miter"/>
<path d="M172.70,139.80 L177.10,147.50 L168.30,147.50 Z" fill="#6aaee2" stroke="#1b2a48" stroke-width="1.1" stroke-linejoin="miter"/>
<path d="M222.80,139.80 L227.20,147.50 L218.40,147.50 Z" fill="#6aaee2" stroke="#1b2a48" stroke-width="1.1" stroke-linejoin="miter"/>
<path d="M107.30,120.90 L111.70,113.20 L102.90,113.20 Z" fill="#62a84a" stroke="#1d2a1a" stroke-width="1.1"/>
<path d="M115.80,130.40 L120.20,122.70 L111.40,122.70 Z" fill="#62a84a" stroke="#1d2a1a" stroke-width="1.1"/>
<path d="M163.80,164.60 L168.20,156.90 L159.40,156.90 Z" fill="#62a84a" stroke="#1d2a1a" stroke-width="1.1"/>
<path d="M222.80,164.60 L227.20,156.90 L218.40,156.90 Z" fill="#62a84a" stroke="#1d2a1a" stroke-width="1.1"/>
<polygon points="77.80,116.30 75.80,119.76 71.80,119.76 69.80,116.30 71.80,112.84 75.80,112.84" fill="#a80c2c" stroke="#2a0a10" stroke-width="1.1"/>
<polygon points="100.50,124.20 98.50,127.66 94.50,127.66 92.50,124.20 94.50,120.74 98.50,120.74" fill="#a80c2c" stroke="#2a0a10" stroke-width="1.1"/>
<polygon points="101.50,131.90 99.50,135.36 95.50,135.36 93.50,131.90 95.50,128.44 99.50,128.44" fill="#a80c2c" stroke="#2a0a10" stroke-width="1.1"/>
<polygon points="111.30,140.10 109.30,143.56 105.30,143.56 103.30,140.10 105.30,136.64 109.30,136.64" fill="#a80c2c" stroke="#2a0a10" stroke-width="1.1"/>
<polygon points="115.90,147.80 113.90,151.26 109.90,151.26 107.90,147.80 109.90,144.34 113.90,144.34" fill="#a80c2c" stroke="#2a0a10" stroke-width="1.1"/>
<polygon points="122.40,156.10 120.40,159.56 116.40,159.56 114.40,156.10 116.40,152.64 120.40,152.64" fill="#a80c2c" stroke="#2a0a10" stroke-width="1.1"/>
<polygon points="124.40,164.20 122.40,167.66 118.40,167.66 116.40,164.20 118.40,160.74 122.40,160.74" fill="#a80c2c" stroke="#2a0a10" stroke-width="1.1"/>
<polygon points="145.00,180.00 143.00,183.46 139.00,183.46 137.00,180.00 139.00,176.54 143.00,176.54" fill="#a80c2c" stroke="#2a0a10" stroke-width="1.1"/>
<polygon points="226.80,180.00 224.80,183.46 220.80,183.46 218.80,180.00 220.80,176.54 224.80,176.54" fill="#a80c2c" stroke="#2a0a10" stroke-width="1.1"/>
<circle cx="70.40" cy="121.80" r="3.7" fill="#2d4a86" stroke="#1a1a2a" stroke-width="1.1"/>
<circle cx="73.00" cy="151.50" r="3.7" fill="#2d4a86" stroke="#1a1a2a" stroke-width="1.1"/>
<circle cx="73.80" cy="195.80" r="3.7" fill="#2d4a86" stroke="#1a1a2a" stroke-width="1.1"/>
<line x1="318.70" y1="90.00" x2="318.70" y2="198.05" stroke="#141414" stroke-width="1.7"/>
<line x1="317.90" y1="197.25" x2="484.50" y2="197.25" stroke="#141414" stroke-width="1.7"/>
<line x1="314.20" y1="197.25" x2="318.70" y2="197.25" stroke="#141414" stroke-width="1.4"/>
<text x="311.20" y="200.45" font-size="9" text-anchor="end" fill="#222">16</text>
<line x1="314.20" y1="183.25" x2="318.70" y2="183.25" stroke="#141414" stroke-width="1.4"/>
<text x="311.20" y="186.45" font-size="9" text-anchor="end" fill="#222">18</text>
<line x1="314.20" y1="169.25" x2="318.70" y2="169.25" stroke="#141414" stroke-width="1.4"/>
<text x="311.20" y="172.45" font-size="9" text-anchor="end" fill="#222">20</text>
<line x1="314.20" y1="155.25" x2="318.70" y2="155.25" stroke="#141414" stroke-width="1.4"/>
<text x="311.20" y="158.45" font-size="9" text-anchor="end" fill="#222">22</text>
<line x1="314.20" y1="141.25" x2="318.70" y2="141.25" stroke="#141414" stroke-width="1.4"/>
<text x="311.20" y="144.45" font-size="9" text-anchor="end" fill="#222">24</text>
<line x1="314.20" y1="127.25" x2="318.70" y2="127.25" stroke="#141414" stroke-width="1.4"/>
<text x="311.20" y="130.45" font-size="9" text-anchor="end" fill="#222">26</text>
<line x1="314.20" y1="113.25" x2="318.70" y2="113.25" stroke="#141414" stroke-width="1.4"/>
<text x="311.20" y="116.45" font-size="9" text-anchor="end" fill="#222">28</text>
<line x1="314.20" y1="99.25" x2="318.70" y2="99.25" stroke="#141414" stroke-width="1.4"/>
<text x="311.20" y="102.45" font-size="9" text-anchor="end" fill="#222">30</text>
<line x1="323.25" y1="197.25" x2="323.25" y2="201.45" stroke="#141414" stroke-width="1.4"/>
<text x="323.25" y="213.80" font-size="9" text-anchor="middle" fill="#222">1</text>
<line x1="344.15" y1="197.25" x2="344.15" y2="201.45" stroke="#141414" stroke-width="1.4"/>
<text x="344.15" y="213.80" font-size="9" text-anchor="middle" fill="#222">3</text>
<line x1="365.05" y1="197.25" x2="365.05" y2="201.45" stroke="#141414" stroke-width="1.4"/>
<text x="365.05" y="213.80" font-size="9" text-anchor="middle" fill="#222">5</text>
<line x1="385.95" y1="197.25" x2="385.95" y2="201.45" stroke="#141414" stroke-width="1.4"/>
<text x="385.95" y="213.80" font-size="9" text-anchor="middle" fill="#222">7</text>
<line x1="406.85" y1="197.25" x2="406.85" y2="201.45" stroke="#141414" stroke-width="1.4"/>
<text x="406.85" y="213.80" font-size="9" text-anchor="middle" fill="#222">9</text>
<line x1="427.75" y1="197.25" x2="427.75" y2="201.45" stroke="#141414" stroke-width="1.4"/>
<text x="427.75" y="213.80" font-size="9" text-anchor="middle" fill="#222">11</text>
<line x1="448.65" y1="197.25" x2="448.65" y2="201.45" stroke="#141414" stroke-width="1.4"/>
<text x="448.65" y="213.80" font-size="9" text-anchor="middle" fill="#222">13</text>
<line x1="469.55" y1="197.25" x2="469.55" y2="201.45" stroke="#141414" stroke-width="1.4"/>
<text x="469.55" y="213.80" font-size="9" text-anchor="middle" fill="#222">15</text>
<text x="401.70" y="227.50" font-size="12.6" text-anchor="middle" textLength="85" lengthAdjust="spacingAndGlyphs" fill="#222">Weeks after BMT</text>
<text x="292.20" y="143.95" font-size="12.6" text-anchor="middle" textLength="103.3" lengthAdjust="spacingAndGlyphs" transform="rotate(-90 292.2 143.95)" fill="#222">Mean body mass (g)</text>
<line x1="323.25" y1="148.60" x2="323.25" y2="158.40" stroke="#141414" stroke-width="1.25"/>
<line x1="319.45" y1="148.60" x2="327.05" y2="148.60" stroke="#141414" stroke-width="1.25"/>
<line x1="319.45" y1="158.40" x2="327.05" y2="158.40" stroke="#141414" stroke-width="1.25"/>
<line x1="333.70" y1="140.55" x2="333.70" y2="150.35" stroke="#141414" stroke-width="1.25"/>
<line x1="329.90" y1="140.55" x2="337.50" y2="140.55" stroke="#141414" stroke-width="1.25"/>
<line x1="329.90" y1="150.35" x2="337.50" y2="150.35" stroke="#141414" stroke-width="1.25"/>
<line x1="344.15" y1="139.15" x2="344.15" y2="148.95" stroke="#141414" stroke-width="1.25"/>
<line x1="340.35" y1="139.15" x2="347.95" y2="139.15" stroke="#141414" stroke-width="1.25"/>
<line x1="340.35" y1="148.95" x2="347.95" y2="148.95" stroke="#141414" stroke-width="1.25"/>
<line x1="354.60" y1="135.65" x2="354.60" y2="145.45" stroke="#141414" stroke-width="1.25"/>
<line x1="350.80" y1="135.65" x2="358.40" y2="135.65" stroke="#141414" stroke-width="1.25"/>
<line x1="350.80" y1="145.45" x2="358.40" y2="145.45" stroke="#141414" stroke-width="1.25"/>
<line x1="365.05" y1="136.35" x2="365.05" y2="146.15" stroke="#141414" stroke-width="1.25"/>
<line x1="361.25" y1="136.35" x2="368.85" y2="136.35" stroke="#141414" stroke-width="1.25"/>
<line x1="361.25" y1="146.15" x2="368.85" y2="146.15" stroke="#141414" stroke-width="1.25"/>
<line x1="375.50" y1="136.35" x2="375.50" y2="146.15" stroke="#141414" stroke-width="1.25"/>
<line x1="371.70" y1="136.35" x2="379.30" y2="136.35" stroke="#141414" stroke-width="1.25"/>
<line x1="371.70" y1="146.15" x2="379.30" y2="146.15" stroke="#141414" stroke-width="1.25"/>
<line x1="385.95" y1="136.35" x2="385.95" y2="146.15" stroke="#141414" stroke-width="1.25"/>
<line x1="382.15" y1="136.35" x2="389.75" y2="136.35" stroke="#141414" stroke-width="1.25"/>
<line x1="382.15" y1="146.15" x2="389.75" y2="146.15" stroke="#141414" stroke-width="1.25"/>
<line x1="396.40" y1="134.95" x2="396.40" y2="144.75" stroke="#141414" stroke-width="1.25"/>
<line x1="392.60" y1="134.95" x2="400.20" y2="134.95" stroke="#141414" stroke-width="1.25"/>
<line x1="392.60" y1="144.75" x2="400.20" y2="144.75" stroke="#141414" stroke-width="1.25"/>
<line x1="406.85" y1="132.85" x2="406.85" y2="142.65" stroke="#141414" stroke-width="1.25"/>
<line x1="403.05" y1="132.85" x2="410.65" y2="132.85" stroke="#141414" stroke-width="1.25"/>
<line x1="403.05" y1="142.65" x2="410.65" y2="142.65" stroke="#141414" stroke-width="1.25"/>
<line x1="417.30" y1="129.35" x2="417.30" y2="139.15" stroke="#141414" stroke-width="1.25"/>
<line x1="413.50" y1="129.35" x2="421.10" y2="129.35" stroke="#141414" stroke-width="1.25"/>
<line x1="413.50" y1="139.15" x2="421.10" y2="139.15" stroke="#141414" stroke-width="1.25"/>
<line x1="427.75" y1="129.35" x2="427.75" y2="139.15" stroke="#141414" stroke-width="1.25"/>
<line x1="423.95" y1="129.35" x2="431.55" y2="129.35" stroke="#141414" stroke-width="1.25"/>
<line x1="423.95" y1="139.15" x2="431.55" y2="139.15" stroke="#141414" stroke-width="1.25"/>
<line x1="438.20" y1="129.35" x2="438.20" y2="139.15" stroke="#141414" stroke-width="1.25"/>
<line x1="434.40" y1="129.35" x2="442.00" y2="129.35" stroke="#141414" stroke-width="1.25"/>
<line x1="434.40" y1="139.15" x2="442.00" y2="139.15" stroke="#141414" stroke-width="1.25"/>
<line x1="448.65" y1="131.45" x2="448.65" y2="141.25" stroke="#141414" stroke-width="1.25"/>
<line x1="444.85" y1="131.45" x2="452.45" y2="131.45" stroke="#141414" stroke-width="1.25"/>
<line x1="444.85" y1="141.25" x2="452.45" y2="141.25" stroke="#141414" stroke-width="1.25"/>
<line x1="459.10" y1="132.15" x2="459.10" y2="141.95" stroke="#141414" stroke-width="1.25"/>
<line x1="455.30" y1="132.15" x2="462.90" y2="132.15" stroke="#141414" stroke-width="1.25"/>
<line x1="455.30" y1="141.95" x2="462.90" y2="141.95" stroke="#141414" stroke-width="1.25"/>
<line x1="469.55" y1="130.75" x2="469.55" y2="140.55" stroke="#141414" stroke-width="1.25"/>
<line x1="465.75" y1="130.75" x2="473.35" y2="130.75" stroke="#141414" stroke-width="1.25"/>
<line x1="465.75" y1="140.55" x2="473.35" y2="140.55" stroke="#141414" stroke-width="1.25"/>
<line x1="323.25" y1="154.55" x2="323.25" y2="167.50" stroke="#141414" stroke-width="1.25"/>
<line x1="319.45" y1="154.55" x2="327.05" y2="154.55" stroke="#141414" stroke-width="1.25"/>
<line x1="319.45" y1="167.50" x2="327.05" y2="167.50" stroke="#141414" stroke-width="1.25"/>
<line x1="333.70" y1="146.15" x2="333.70" y2="159.10" stroke="#141414" stroke-width="1.25"/>
<line x1="329.90" y1="146.15" x2="337.50" y2="146.15" stroke="#141414" stroke-width="1.25"/>
<line x1="329.90" y1="159.10" x2="337.50" y2="159.10" stroke="#141414" stroke-width="1.25"/>
<line x1="344.15" y1="145.45" x2="344.15" y2="158.40" stroke="#141414" stroke-width="1.25"/>
<line x1="340.35" y1="145.45" x2="347.95" y2="145.45" stroke="#141414" stroke-width="1.25"/>
<line x1="340.35" y1="158.40" x2="347.95" y2="158.40" stroke="#141414" stroke-width="1.25"/>
<line x1="354.60" y1="148.95" x2="354.60" y2="161.90" stroke="#141414" stroke-width="1.25"/>
<line x1="350.80" y1="148.95" x2="358.40" y2="148.95" stroke="#141414" stroke-width="1.25"/>
<line x1="350.80" y1="161.90" x2="358.40" y2="161.90" stroke="#141414" stroke-width="1.25"/>
<line x1="365.05" y1="156.65" x2="365.05" y2="169.60" stroke="#141414" stroke-width="1.25"/>
<line x1="361.25" y1="156.65" x2="368.85" y2="156.65" stroke="#141414" stroke-width="1.25"/>
<line x1="361.25" y1="169.60" x2="368.85" y2="169.60" stroke="#141414" stroke-width="1.25"/>
<line x1="375.50" y1="159.45" x2="375.50" y2="172.40" stroke="#141414" stroke-width="1.25"/>
<line x1="371.70" y1="159.45" x2="379.30" y2="159.45" stroke="#141414" stroke-width="1.25"/>
<line x1="371.70" y1="172.40" x2="379.30" y2="172.40" stroke="#141414" stroke-width="1.25"/>
<line x1="385.95" y1="160.15" x2="385.95" y2="173.10" stroke="#141414" stroke-width="1.25"/>
<line x1="382.15" y1="160.15" x2="389.75" y2="160.15" stroke="#141414" stroke-width="1.25"/>
<line x1="382.15" y1="173.10" x2="389.75" y2="173.10" stroke="#141414" stroke-width="1.25"/>
<line x1="396.40" y1="153.85" x2="396.40" y2="166.80" stroke="#141414" stroke-width="1.25"/>
<line x1="392.60" y1="153.85" x2="400.20" y2="153.85" stroke="#141414" stroke-width="1.25"/>
<line x1="392.60" y1="166.80" x2="400.20" y2="166.80" stroke="#141414" stroke-width="1.25"/>
<line x1="406.85" y1="153.85" x2="406.85" y2="166.80" stroke="#141414" stroke-width="1.25"/>
<line x1="403.05" y1="153.85" x2="410.65" y2="153.85" stroke="#141414" stroke-width="1.25"/>
<line x1="403.05" y1="166.80" x2="410.65" y2="166.80" stroke="#141414" stroke-width="1.25"/>
<line x1="417.30" y1="152.45" x2="417.30" y2="165.40" stroke="#141414" stroke-width="1.25"/>
<line x1="413.50" y1="152.45" x2="421.10" y2="152.45" stroke="#141414" stroke-width="1.25"/>
<line x1="413.50" y1="165.40" x2="421.10" y2="165.40" stroke="#141414" stroke-width="1.25"/>
<line x1="427.75" y1="144.75" x2="427.75" y2="157.70" stroke="#141414" stroke-width="1.25"/>
<line x1="423.95" y1="144.75" x2="431.55" y2="144.75" stroke="#141414" stroke-width="1.25"/>
<line x1="423.95" y1="157.70" x2="431.55" y2="157.70" stroke="#141414" stroke-width="1.25"/>
<line x1="438.20" y1="142.65" x2="438.20" y2="155.60" stroke="#141414" stroke-width="1.25"/>
<line x1="434.40" y1="142.65" x2="442.00" y2="142.65" stroke="#141414" stroke-width="1.25"/>
<line x1="434.40" y1="155.60" x2="442.00" y2="155.60" stroke="#141414" stroke-width="1.25"/>
<line x1="448.65" y1="140.55" x2="448.65" y2="153.50" stroke="#141414" stroke-width="1.25"/>
<line x1="444.85" y1="140.55" x2="452.45" y2="140.55" stroke="#141414" stroke-width="1.25"/>
<line x1="444.85" y1="153.50" x2="452.45" y2="153.50" stroke="#141414" stroke-width="1.25"/>
<line x1="459.10" y1="140.55" x2="459.10" y2="153.50" stroke="#141414" stroke-width="1.25"/>
<line x1="455.30" y1="140.55" x2="462.90" y2="140.55" stroke="#141414" stroke-width="1.25"/>
<line x1="455.30" y1="153.50" x2="462.90" y2="153.50" stroke="#141414" stroke-width="1.25"/>
<line x1="469.55" y1="140.55" x2="469.55" y2="153.50" stroke="#141414" stroke-width="1.25"/>
<line x1="465.75" y1="140.55" x2="473.35" y2="140.55" stroke="#141414" stroke-width="1.25"/>
<line x1="465.75" y1="153.50" x2="473.35" y2="153.50" stroke="#141414" stroke-width="1.25"/>
<line x1="323.25" y1="106.95" x2="323.25" y2="169.25" stroke="#141414" stroke-width="1.25"/>
<line x1="319.45" y1="106.95" x2="327.05" y2="106.95" stroke="#141414" stroke-width="1.25"/>
<line x1="319.45" y1="169.25" x2="327.05" y2="169.25" stroke="#141414" stroke-width="1.25"/>
<line x1="323.25" y1="110.45" x2="323.25" y2="139.85" stroke="#141414" stroke-width="1.25"/>
<line x1="319.45" y1="110.45" x2="327.05" y2="110.45" stroke="#141414" stroke-width="1.25"/>
<line x1="319.45" y1="139.85" x2="327.05" y2="139.85" stroke="#141414" stroke-width="1.25"/>
<line x1="333.70" y1="125.15" x2="333.70" y2="161.55" stroke="#141414" stroke-width="1.25"/>
<line x1="329.90" y1="125.15" x2="337.50" y2="125.15" stroke="#141414" stroke-width="1.25"/>
<line x1="329.90" y1="161.55" x2="337.50" y2="161.55" stroke="#141414" stroke-width="1.25"/>
<line x1="344.15" y1="118.15" x2="344.15" y2="158.05" stroke="#141414" stroke-width="1.25"/>
<line x1="340.35" y1="118.15" x2="347.95" y2="118.15" stroke="#141414" stroke-width="1.25"/>
<line x1="340.35" y1="158.05" x2="347.95" y2="158.05" stroke="#141414" stroke-width="1.25"/>
<line x1="354.60" y1="127.95" x2="354.60" y2="171.35" stroke="#141414" stroke-width="1.25"/>
<line x1="350.80" y1="127.95" x2="358.40" y2="127.95" stroke="#141414" stroke-width="1.25"/>
<line x1="350.80" y1="171.35" x2="358.40" y2="171.35" stroke="#141414" stroke-width="1.25"/>
<line x1="375.50" y1="157.35" x2="375.50" y2="175.55" stroke="#141414" stroke-width="1.25"/>
<line x1="371.70" y1="157.35" x2="379.30" y2="157.35" stroke="#141414" stroke-width="1.25"/>
<line x1="371.70" y1="175.55" x2="379.30" y2="175.55" stroke="#141414" stroke-width="1.25"/>
<path d="M323.25,158.75 L333.70,150.35 L344.15,149.65 L354.60,153.15 L365.05,160.85 L375.50,163.65 L385.95,164.35 L396.40,158.05 L406.85,158.05 L417.30,156.65 L427.75,148.95 L438.20,146.85 L448.65,144.75 L459.10,144.75 L469.55,144.75" stroke="#72b45a" stroke-width="1.6" fill="none" stroke-linejoin="round"/>
<path d="M323.25,153.50 L333.70,145.45 L344.15,144.05 L354.60,140.55 L365.05,141.25 L375.50,141.25 L385.95,141.25 L396.40,139.85 L406.85,137.75 L417.30,134.25 L427.75,134.25 L438.20,134.25 L448.65,136.35 L459.10,137.05 L469.55,135.65" stroke="#f0c030" stroke-width="1.6" fill="none" stroke-linejoin="round"/>
<path d="M323.25,130.75 L333.70,145.45 L344.15,135.65 L354.60,141.25 L365.05,148.95 L375.50,166.45" stroke="#a01030" stroke-width="1.6" fill="none" stroke-linejoin="round"/>
<path d="M323.25,125.85 L333.70,136.35 L344.15,129.35 L354.60,149.65" stroke="#8ab8e4" stroke-width="1.6" fill="none" stroke-linejoin="round"/>
<path d="M323.25,119.55 L333.70,151.75" stroke="#34508a" stroke-width="1.6" fill="none" stroke-linejoin="round"/>
<path d="M323.25,162.45 L326.95,155.97 L319.55,155.97 Z" fill="#62a84a" stroke="#1d2a1a" stroke-width="1.1"/>
<path d="M333.70,154.05 L337.40,147.58 L330.00,147.58 Z" fill="#62a84a" stroke="#1d2a1a" stroke-width="1.1"/>
<path d="M344.15,153.35 L347.85,146.87 L340.45,146.87 Z" fill="#62a84a" stroke="#1d2a1a" stroke-width="1.1"/>
<path d="M354.60,156.85 L358.30,150.37 L350.90,150.37 Z" fill="#62a84a" stroke="#1d2a1a" stroke-width="1.1"/>
<path d="M365.05,164.55 L368.75,158.08 L361.35,158.08 Z" fill="#62a84a" stroke="#1d2a1a" stroke-width="1.1"/>
<path d="M375.50,167.35 L379.20,160.87 L371.80,160.87 Z" fill="#62a84a" stroke="#1d2a1a" stroke-width="1.1"/>
<path d="M385.95,168.05 L389.65,161.58 L382.25,161.58 Z" fill="#62a84a" stroke="#1d2a1a" stroke-width="1.1"/>
<path d="M396.40,161.75 L400.10,155.27 L392.70,155.27 Z" fill="#62a84a" stroke="#1d2a1a" stroke-width="1.1"/>
<path d="M406.85,161.75 L410.55,155.27 L403.15,155.27 Z" fill="#62a84a" stroke="#1d2a1a" stroke-width="1.1"/>
<path d="M417.30,160.35 L421.00,153.87 L413.60,153.87 Z" fill="#62a84a" stroke="#1d2a1a" stroke-width="1.1"/>
<path d="M427.75,152.65 L431.45,146.18 L424.05,146.18 Z" fill="#62a84a" stroke="#1d2a1a" stroke-width="1.1"/>
<path d="M438.20,150.55 L441.90,144.08 L434.50,144.08 Z" fill="#62a84a" stroke="#1d2a1a" stroke-width="1.1"/>
<path d="M448.65,148.45 L452.35,141.97 L444.95,141.97 Z" fill="#62a84a" stroke="#1d2a1a" stroke-width="1.1"/>
<path d="M459.10,148.45 L462.80,141.97 L455.40,141.97 Z" fill="#62a84a" stroke="#1d2a1a" stroke-width="1.1"/>
<path d="M469.55,148.45 L473.25,141.97 L465.85,141.97 Z" fill="#62a84a" stroke="#1d2a1a" stroke-width="1.1"/>
<polygon points="326.85,130.75 325.05,133.87 321.45,133.87 319.65,130.75 321.45,127.63 325.05,127.63" fill="#a80c2c" stroke="#2a0a10" stroke-width="1.1"/>
<polygon points="337.30,145.45 335.50,148.57 331.90,148.57 330.10,145.45 331.90,142.33 335.50,142.33" fill="#a80c2c" stroke="#2a0a10" stroke-width="1.1"/>
<polygon points="347.75,135.65 345.95,138.77 342.35,138.77 340.55,135.65 342.35,132.53 345.95,132.53" fill="#a80c2c" stroke="#2a0a10" stroke-width="1.1"/>
<polygon points="358.20,141.25 356.40,144.37 352.80,144.37 351.00,141.25 352.80,138.13 356.40,138.13" fill="#a80c2c" stroke="#2a0a10" stroke-width="1.1"/>
<polygon points="368.65,148.95 366.85,152.07 363.25,152.07 361.45,148.95 363.25,145.83 366.85,145.83" fill="#a80c2c" stroke="#2a0a10" stroke-width="1.1"/>
<polygon points="379.10,166.45 377.30,169.57 373.70,169.57 371.90,166.45 373.70,163.33 377.30,163.33" fill="#a80c2c" stroke="#2a0a10" stroke-width="1.1"/>
<rect x="319.35" y="149.60" width="7.80" height="7.80" fill="#f2c12c" stroke="#2a2a1a" stroke-width="1.1"/>
<rect x="329.80" y="141.55" width="7.80" height="7.80" fill="#f2c12c" stroke="#2a2a1a" stroke-width="1.1"/>
<rect x="340.25" y="140.15" width="7.80" height="7.80" fill="#f2c12c" stroke="#2a2a1a" stroke-width="1.1"/>
<rect x="350.70" y="136.65" width="7.80" height="7.80" fill="#f2c12c" stroke="#2a2a1a" stroke-width="1.1"/>
<rect x="361.15" y="137.35" width="7.80" height="7.80" fill="#f2c12c" stroke="#2a2a1a" stroke-width="1.1"/>
<rect x="371.60" y="137.35" width="7.80" height="7.80" fill="#f2c12c" stroke="#2a2a1a" stroke-width="1.1"/>
<rect x="382.05" y="137.35" width="7.80" height="7.80" fill="#f2c12c" stroke="#2a2a1a" stroke-width="1.1"/>
<rect x="392.50" y="135.95" width="7.80" height="7.80" fill="#f2c12c" stroke="#2a2a1a" stroke-width="1.1"/>
<rect x="402.95" y="133.85" width="7.80" height="7.80" fill="#f2c12c" stroke="#2a2a1a" stroke-width="1.1"/>
<rect x="413.40" y="130.35" width="7.80" height="7.80" fill="#f2c12c" stroke="#2a2a1a" stroke-width="1.1"/>
<rect x="423.85" y="130.35" width="7.80" height="7.80" fill="#f2c12c" stroke="#2a2a1a" stroke-width="1.1"/>
<rect x="434.30" y="130.35" width="7.80" height="7.80" fill="#f2c12c" stroke="#2a2a1a" stroke-width="1.1"/>
<rect x="444.75" y="132.45" width="7.80" height="7.80" fill="#f2c12c" stroke="#2a2a1a" stroke-width="1.1"/>
<rect x="455.20" y="133.15" width="7.80" height="7.80" fill="#f2c12c" stroke="#2a2a1a" stroke-width="1.1"/>
<rect x="465.65" y="131.75" width="7.80" height="7.80" fill="#f2c12c" stroke="#2a2a1a" stroke-width="1.1"/>
<circle cx="323.25" cy="119.55" r="3.5" fill="#2d4a86" stroke="#1a1a2a" stroke-width="1.1"/>
<circle cx="333.70" cy="151.75" r="3.5" fill="#2d4a86" stroke="#1a1a2a" stroke-width="1.1"/>
<path d="M323.25,121.95 L327.15,128.78 L319.35,128.78 Z" fill="#6aaee2" stroke="#1b2a48" stroke-width="1.1" stroke-linejoin="miter"/>
<path d="M333.70,132.45 L337.60,139.28 L329.80,139.28 Z" fill="#6aaee2" stroke="#1b2a48" stroke-width="1.1" stroke-linejoin="miter"/>
<path d="M344.15,125.45 L348.05,132.28 L340.25,132.28 Z" fill="#6aaee2" stroke="#1b2a48" stroke-width="1.1" stroke-linejoin="miter"/>
<path d="M354.60,145.75 L358.50,152.57 L350.70,152.57 Z" fill="#6aaee2" stroke="#1b2a48" stroke-width="1.1" stroke-linejoin="miter"/>
<line x1="330.50" y1="168.20" x2="336.90" y2="168.20" stroke="#b01030" stroke-width="1.6"/>
<line x1="333.70" y1="165.00" x2="333.70" y2="171.40" stroke="#b01030" stroke-width="1.6"/>
<line x1="351.40" y1="177.65" x2="357.80" y2="177.65" stroke="#b01030" stroke-width="1.6"/>
<line x1="354.60" y1="174.45" x2="354.60" y2="180.85" stroke="#b01030" stroke-width="1.6"/>
<line x1="372.30" y1="183.25" x2="378.70" y2="183.25" stroke="#b01030" stroke-width="1.6"/>
<line x1="375.50" y1="180.05" x2="375.50" y2="186.45" stroke="#b01030" stroke-width="1.6"/>
<line x1="81.25" y1="258.00" x2="96.25" y2="258.00" stroke="#111" stroke-width="1.3"/>
<path d="M88.75,262.40 L93.15,254.70 L84.35,254.70 Z" fill="#ffffff" stroke="#1d2a1a" stroke-width="1.1"/>
<text x="101.25" y="261.10" font-size="8.8" fill="#222">ATS/CTX</text>
<text x="157.50" y="261.10" font-size="8.8" fill="#222">(n = 10)</text>
<line x1="81.25" y1="272.50" x2="96.25" y2="272.50" stroke="#9c8cc8" stroke-width="1.3"/>
<path d="M88.75,276.90 L93.15,269.20 L84.35,269.20 Z" fill="#8a88bc" stroke="#1d2a1a" stroke-width="1.1"/>
<text x="101.25" y="275.60" font-size="8.8" fill="#222">TLI/CTX</text>
<text x="157.50" y="275.60" font-size="8.8" fill="#222">(n = 6)</text>
<line x1="81.25" y1="287.25" x2="96.25" y2="287.25" stroke="#e8921e" stroke-width="1.3"/>
<path d="M88.75,282.45 L93.55,287.25 L88.75,292.05 L83.95,287.25 Z" fill="#d89c30" stroke="#2a1a0a" stroke-width="1.1"/>
<text x="101.25" y="290.35" font-size="8.8" fill="#222">TLI/ATS</text>
<text x="157.50" y="290.35" font-size="8.8" fill="#222">(n = 14)</text>
<line x1="81.25" y1="301.25" x2="96.25" y2="301.25" stroke="#c01a78" stroke-width="1.3"/>
<circle cx="88.75" cy="301.25" r="3.7" fill="#c0147a" stroke="#1a1a2a" stroke-width="1.1"/>
<text x="101.25" y="304.35" font-size="8.8" fill="#222">TLI/ATS/CTX</text>
<text x="157.50" y="304.35" font-size="8.8" fill="#222">(n = 10)</text>
<line x1="328.00" y1="273.00" x2="343.00" y2="273.00" stroke="#9c8cc8" stroke-width="1.3"/>
<path d="M335.50,277.40 L339.90,269.70 L331.10,269.70 Z" fill="#8a88bc" stroke="#1d2a1a" stroke-width="1.1"/>
<text x="347.50" y="276.10" font-size="8.8" fill="#222">TLI/CTX</text>
<text x="404.50" y="276.10" font-size="8.8" fill="#222">(n = 4)</text>
<line x1="328.00" y1="287.50" x2="343.00" y2="287.50" stroke="#e8921e" stroke-width="1.3"/>
<path d="M335.50,282.70 L340.30,287.50 L335.50,292.30 L330.70,287.50 Z" fill="#d89c30" stroke="#2a1a0a" stroke-width="1.1"/>
<text x="347.50" y="290.60" font-size="8.8" fill="#222">TLI/ATS</text>
<text x="404.50" y="290.60" font-size="8.8" fill="#222">(n = 13)</text>
<line x1="328.00" y1="301.75" x2="343.00" y2="301.75" stroke="#c01a78" stroke-width="1.3"/>
<circle cx="335.50" cy="301.75" r="3.7" fill="#c0147a" stroke="#1a1a2a" stroke-width="1.1"/>
<text x="347.50" y="304.85" font-size="8.8" fill="#222">TLI/ATS/CTX</text>
<text x="404.50" y="304.85" font-size="8.8" fill="#222">(n = 10)</text>
<line x1="62.50" y1="321.00" x2="62.50" y2="432.55" stroke="#141414" stroke-width="1.7"/>
<line x1="61.70" y1="431.75" x2="232.50" y2="431.75" stroke="#141414" stroke-width="1.7"/>
<line x1="58.00" y1="431.75" x2="62.50" y2="431.75" stroke="#141414" stroke-width="1.4"/>
<text x="54.20" y="434.95" font-size="9" text-anchor="end" fill="#222">0</text>
<line x1="58.00" y1="420.96" x2="62.50" y2="420.96" stroke="#141414" stroke-width="1.4"/>
<text x="54.20" y="424.16" font-size="9" text-anchor="end" fill="#222">10</text>
<line x1="58.00" y1="410.18" x2="62.50" y2="410.18" stroke="#141414" stroke-width="1.4"/>
<text x="54.20" y="413.38" font-size="9" text-anchor="end" fill="#222">20</text>
<line x1="58.00" y1="399.39" x2="62.50" y2="399.39" stroke="#141414" stroke-width="1.4"/>
<text x="54.20" y="402.59" font-size="9" text-anchor="end" fill="#222">30</text>
<line x1="58.00" y1="388.61" x2="62.50" y2="388.61" stroke="#141414" stroke-width="1.4"/>
<text x="54.20" y="391.81" font-size="9" text-anchor="end" fill="#222">40</text>
<line x1="58.00" y1="377.82" x2="62.50" y2="377.82" stroke="#141414" stroke-width="1.4"/>
<text x="54.20" y="381.02" font-size="9" text-anchor="end" fill="#222">50</text>
<line x1="58.00" y1="367.04" x2="62.50" y2="367.04" stroke="#141414" stroke-width="1.4"/>
<text x="54.20" y="370.24" font-size="9" text-anchor="end" fill="#222">60</text>
<line x1="58.00" y1="356.25" x2="62.50" y2="356.25" stroke="#141414" stroke-width="1.4"/>
<text x="54.20" y="359.45" font-size="9" text-anchor="end" fill="#222">70</text>
<line x1="58.00" y1="345.47" x2="62.50" y2="345.47" stroke="#141414" stroke-width="1.4"/>
<text x="54.20" y="348.67" font-size="9" text-anchor="end" fill="#222">80</text>
<line x1="58.00" y1="334.69" x2="62.50" y2="334.69" stroke="#141414" stroke-width="1.4"/>
<text x="54.20" y="337.88" font-size="9" text-anchor="end" fill="#222">90</text>
<line x1="58.00" y1="323.90" x2="62.50" y2="323.90" stroke="#141414" stroke-width="1.4"/>
<text x="54.20" y="327.10" font-size="9" text-anchor="end" fill="#222">100</text>
<line x1="62.50" y1="431.75" x2="62.50" y2="435.95" stroke="#141414" stroke-width="1.4"/>
<text x="62.50" y="447.90" font-size="9" text-anchor="middle" fill="#222">0</text>
<line x1="79.00" y1="431.75" x2="79.00" y2="435.95" stroke="#141414" stroke-width="1.4"/>
<text x="79.00" y="447.90" font-size="9" text-anchor="middle" fill="#222">10</text>
<line x1="95.50" y1="431.75" x2="95.50" y2="435.95" stroke="#141414" stroke-width="1.4"/>
<text x="95.50" y="447.90" font-size="9" text-anchor="middle" fill="#222">20</text>
<line x1="112.00" y1="431.75" x2="112.00" y2="435.95" stroke="#141414" stroke-width="1.4"/>
<text x="112.00" y="447.90" font-size="9" text-anchor="middle" fill="#222">30</text>
<line x1="128.50" y1="431.75" x2="128.50" y2="435.95" stroke="#141414" stroke-width="1.4"/>
<text x="128.50" y="447.90" font-size="9" text-anchor="middle" fill="#222">40</text>
<line x1="145.00" y1="431.75" x2="145.00" y2="435.95" stroke="#141414" stroke-width="1.4"/>
<text x="145.00" y="447.90" font-size="9" text-anchor="middle" fill="#222">50</text>
<line x1="161.50" y1="431.75" x2="161.50" y2="435.95" stroke="#141414" stroke-width="1.4"/>
<text x="161.50" y="447.90" font-size="9" text-anchor="middle" fill="#222">60</text>
<line x1="178.00" y1="431.75" x2="178.00" y2="435.95" stroke="#141414" stroke-width="1.4"/>
<text x="178.00" y="447.90" font-size="9" text-anchor="middle" fill="#222">70</text>
<line x1="194.50" y1="431.75" x2="194.50" y2="435.95" stroke="#141414" stroke-width="1.4"/>
<text x="194.50" y="447.90" font-size="9" text-anchor="middle" fill="#222">80</text>
<line x1="211.00" y1="431.75" x2="211.00" y2="435.95" stroke="#141414" stroke-width="1.4"/>
<text x="211.00" y="447.90" font-size="9" text-anchor="middle" fill="#222">90</text>
<line x1="227.50" y1="431.75" x2="227.50" y2="435.95" stroke="#141414" stroke-width="1.4"/>
<text x="227.50" y="447.90" font-size="9" text-anchor="middle" fill="#222">100</text>
<text x="147.10" y="462.50" font-size="12.6" text-anchor="middle" textLength="75" lengthAdjust="spacingAndGlyphs" fill="#222">Days after BMT</text>
<text x="30.30" y="378.90" font-size="12.6" text-anchor="middle" textLength="66" lengthAdjust="spacingAndGlyphs" transform="rotate(-90 30.3 378.9)" fill="#222">Survival (%)</text>
<path d="M62.5,323.90 H227.50" stroke="#222" stroke-width="1.3" fill="none"/>
<path d="M62.5,323.90 H85.75 V342 H114.8 V359.8 H146.3 V377.5 H192.1 V395.6 H227.50" stroke="#9290c2" stroke-width="1.4" fill="none"/>
<path d="M130,323.90 H227.50" stroke="#c01a78" stroke-width="1.5" fill="none"/>
<path d="M62.5,323.90 H130 V331.8 H146.3 V345.8 H200.4 V354.7 H227.50" stroke="#e29c34" stroke-width="1.5" fill="none"/>
<path d="M78.25,319.10 L83.05,323.90 L78.25,328.70 L73.45,323.90 Z" fill="#d89c30" stroke="#2a1a0a" stroke-width="1.1"/>
<circle cx="103.75" cy="323.90" r="3.7" fill="#c0147a" stroke="#1a1a2a" stroke-width="1.1"/>
<path d="M116.70,328.30 L121.10,320.60 L112.30,320.60 Z" fill="#ffffff" stroke="#222" stroke-width="1.1"/>
<path d="M63.1,323.90 H130" stroke="#e29c34" stroke-width="1.5" fill="none"/>
<path d="M78.25,319.10 L83.05,323.90 L78.25,328.70 L73.45,323.90 Z" fill="#d89c30" stroke="#2a1a0a" stroke-width="1.1"/>
<path d="M130.20,327.00 L135.00,331.80 L130.20,336.60 L125.40,331.80 Z" fill="#d89c30" stroke="#2a1a0a" stroke-width="1.1"/>
<path d="M146.30,341.00 L151.10,345.80 L146.30,350.60 L141.50,345.80 Z" fill="#d89c30" stroke="#2a1a0a" stroke-width="1.1"/>
<path d="M169.50,341.00 L174.30,345.80 L169.50,350.60 L164.70,345.80 Z" fill="#d89c30" stroke="#2a1a0a" stroke-width="1.1"/>
<path d="M200.40,349.90 L205.20,354.70 L200.40,359.50 L195.60,354.70 Z" fill="#d89c30" stroke="#2a1a0a" stroke-width="1.1"/>
<path d="M227.50,349.90 L232.30,354.70 L227.50,359.50 L222.70,354.70 Z" fill="#d89c30" stroke="#2a1a0a" stroke-width="1.1"/>
<circle cx="144.40" cy="323.90" r="3.7" fill="#c0147a" stroke="#1a1a2a" stroke-width="1.1"/>
<circle cx="185.60" cy="323.90" r="3.7" fill="#c0147a" stroke="#1a1a2a" stroke-width="1.1"/>
<path d="M161.40,328.30 L165.80,320.60 L157.00,320.60 Z" fill="#ffffff" stroke="#222" stroke-width="1.1"/>
<path d="M210.40,328.30 L214.80,320.60 L206.00,320.60 Z" fill="#ffffff" stroke="#222" stroke-width="1.1"/>
<circle cx="227.50" cy="323.90" r="3.7" fill="#c0147a" stroke="#1a1a2a" stroke-width="1.1"/>
<path d="M85.75,346.40 L90.15,338.70 L81.35,338.70 Z" fill="#8a88bc" stroke="#1d2a1a" stroke-width="1.1"/>
<path d="M114.80,364.20 L119.20,356.50 L110.40,356.50 Z" fill="#8a88bc" stroke="#1d2a1a" stroke-width="1.1"/>
<path d="M146.30,381.90 L150.70,374.20 L141.90,374.20 Z" fill="#8a88bc" stroke="#1d2a1a" stroke-width="1.1"/>
<path d="M192.10,400.00 L196.50,392.30 L187.70,392.30 Z" fill="#8a88bc" stroke="#1d2a1a" stroke-width="1.1"/>
<path d="M227.50,400.00 L231.90,392.30 L223.10,392.30 Z" fill="#8a88bc" stroke="#1d2a1a" stroke-width="1.1"/>
<line x1="318.75" y1="325.00" x2="318.75" y2="432.80" stroke="#141414" stroke-width="1.7"/>
<line x1="317.95" y1="432.00" x2="486.25" y2="432.00" stroke="#141414" stroke-width="1.7"/>
<line x1="314.25" y1="432.00" x2="318.75" y2="432.00" stroke="#141414" stroke-width="1.4"/>
<text x="311.25" y="435.20" font-size="9" text-anchor="end" fill="#222">16</text>
<line x1="314.25" y1="417.42" x2="318.75" y2="417.42" stroke="#141414" stroke-width="1.4"/>
<text x="311.25" y="420.62" font-size="9" text-anchor="end" fill="#222">18</text>
<line x1="314.25" y1="402.84" x2="318.75" y2="402.84" stroke="#141414" stroke-width="1.4"/>
<text x="311.25" y="406.04" font-size="9" text-anchor="end" fill="#222">20</text>
<line x1="314.25" y1="388.26" x2="318.75" y2="388.26" stroke="#141414" stroke-width="1.4"/>
<text x="311.25" y="391.46" font-size="9" text-anchor="end" fill="#222">22</text>
<line x1="314.25" y1="373.68" x2="318.75" y2="373.68" stroke="#141414" stroke-width="1.4"/>
<text x="311.25" y="376.88" font-size="9" text-anchor="end" fill="#222">24</text>
<line x1="314.25" y1="359.10" x2="318.75" y2="359.10" stroke="#141414" stroke-width="1.4"/>
<text x="311.25" y="362.30" font-size="9" text-anchor="end" fill="#222">26</text>
<line x1="314.25" y1="344.52" x2="318.75" y2="344.52" stroke="#141414" stroke-width="1.4"/>
<text x="311.25" y="347.72" font-size="9" text-anchor="end" fill="#222">28</text>
<line x1="314.25" y1="329.94" x2="318.75" y2="329.94" stroke="#141414" stroke-width="1.4"/>
<text x="311.25" y="333.14" font-size="9" text-anchor="end" fill="#222">30</text>
<line x1="323.75" y1="432.00" x2="323.75" y2="436.20" stroke="#141414" stroke-width="1.4"/>
<text x="323.75" y="448.20" font-size="9" text-anchor="middle" fill="#222">1</text>
<line x1="346.50" y1="432.00" x2="346.50" y2="436.20" stroke="#141414" stroke-width="1.4"/>
<text x="346.50" y="448.20" font-size="9" text-anchor="middle" fill="#222">3</text>
<line x1="369.25" y1="432.00" x2="369.25" y2="436.20" stroke="#141414" stroke-width="1.4"/>
<text x="369.25" y="448.20" font-size="9" text-anchor="middle" fill="#222">5</text>
<line x1="392.00" y1="432.00" x2="392.00" y2="436.20" stroke="#141414" stroke-width="1.4"/>
<text x="392.00" y="448.20" font-size="9" text-anchor="middle" fill="#222">7</text>
<line x1="414.75" y1="432.00" x2="414.75" y2="436.20" stroke="#141414" stroke-width="1.4"/>
<text x="414.75" y="448.20" font-size="9" text-anchor="middle" fill="#222">9</text>
<line x1="437.50" y1="432.00" x2="437.50" y2="436.20" stroke="#141414" stroke-width="1.4"/>
<text x="437.50" y="448.20" font-size="9" text-anchor="middle" fill="#222">11</text>
<line x1="460.25" y1="432.00" x2="460.25" y2="436.20" stroke="#141414" stroke-width="1.4"/>
<text x="460.25" y="448.20" font-size="9" text-anchor="middle" fill="#222">13</text>
<line x1="483.00" y1="432.00" x2="483.00" y2="436.20" stroke="#141414" stroke-width="1.4"/>
<text x="483.00" y="448.20" font-size="9" text-anchor="middle" fill="#222">15</text>
<text x="402.90" y="462.50" font-size="12.6" text-anchor="middle" textLength="84.6" lengthAdjust="spacingAndGlyphs" fill="#222">Weeks after BMT</text>
<text x="291.60" y="376.60" font-size="12.6" text-anchor="middle" textLength="102.7" lengthAdjust="spacingAndGlyphs" transform="rotate(-90 291.6 376.6)" fill="#222">Mean body mass (g)</text>
<line x1="323.75" y1="381.33" x2="323.75" y2="393.73" stroke="#141414" stroke-width="1.25"/>
<line x1="319.95" y1="381.33" x2="327.55" y2="381.33" stroke="#141414" stroke-width="1.25"/>
<line x1="319.95" y1="393.73" x2="327.55" y2="393.73" stroke="#141414" stroke-width="1.25"/>
<line x1="335.12" y1="368.21" x2="335.12" y2="380.61" stroke="#141414" stroke-width="1.25"/>
<line x1="331.32" y1="368.21" x2="338.93" y2="368.21" stroke="#141414" stroke-width="1.25"/>
<line x1="331.32" y1="380.61" x2="338.93" y2="380.61" stroke="#141414" stroke-width="1.25"/>
<line x1="346.50" y1="372.59" x2="346.50" y2="384.98" stroke="#141414" stroke-width="1.25"/>
<line x1="342.70" y1="372.59" x2="350.30" y2="372.59" stroke="#141414" stroke-width="1.25"/>
<line x1="342.70" y1="384.98" x2="350.30" y2="384.98" stroke="#141414" stroke-width="1.25"/>
<line x1="357.88" y1="365.30" x2="357.88" y2="377.69" stroke="#141414" stroke-width="1.25"/>
<line x1="354.07" y1="365.30" x2="361.68" y2="365.30" stroke="#141414" stroke-width="1.25"/>
<line x1="354.07" y1="377.69" x2="361.68" y2="377.69" stroke="#141414" stroke-width="1.25"/>
<line x1="369.25" y1="365.30" x2="369.25" y2="377.69" stroke="#141414" stroke-width="1.25"/>
<line x1="365.45" y1="365.30" x2="373.05" y2="365.30" stroke="#141414" stroke-width="1.25"/>
<line x1="365.45" y1="377.69" x2="373.05" y2="377.69" stroke="#141414" stroke-width="1.25"/>
<line x1="380.62" y1="367.48" x2="380.62" y2="379.88" stroke="#141414" stroke-width="1.25"/>
<line x1="376.82" y1="367.48" x2="384.43" y2="367.48" stroke="#141414" stroke-width="1.25"/>
<line x1="376.82" y1="379.88" x2="384.43" y2="379.88" stroke="#141414" stroke-width="1.25"/>
<line x1="392.00" y1="363.84" x2="392.00" y2="376.23" stroke="#141414" stroke-width="1.25"/>
<line x1="388.20" y1="363.84" x2="395.80" y2="363.84" stroke="#141414" stroke-width="1.25"/>
<line x1="388.20" y1="376.23" x2="395.80" y2="376.23" stroke="#141414" stroke-width="1.25"/>
<line x1="403.38" y1="363.84" x2="403.38" y2="376.23" stroke="#141414" stroke-width="1.25"/>
<line x1="399.57" y1="363.84" x2="407.18" y2="363.84" stroke="#141414" stroke-width="1.25"/>
<line x1="399.57" y1="376.23" x2="407.18" y2="376.23" stroke="#141414" stroke-width="1.25"/>
<line x1="414.75" y1="360.92" x2="414.75" y2="373.32" stroke="#141414" stroke-width="1.25"/>
<line x1="410.95" y1="360.92" x2="418.55" y2="360.92" stroke="#141414" stroke-width="1.25"/>
<line x1="410.95" y1="373.32" x2="418.55" y2="373.32" stroke="#141414" stroke-width="1.25"/>
<line x1="426.12" y1="356.55" x2="426.12" y2="368.94" stroke="#141414" stroke-width="1.25"/>
<line x1="422.32" y1="356.55" x2="429.93" y2="356.55" stroke="#141414" stroke-width="1.25"/>
<line x1="422.32" y1="368.94" x2="429.93" y2="368.94" stroke="#141414" stroke-width="1.25"/>
<line x1="437.50" y1="357.28" x2="437.50" y2="369.67" stroke="#141414" stroke-width="1.25"/>
<line x1="433.70" y1="357.28" x2="441.30" y2="357.28" stroke="#141414" stroke-width="1.25"/>
<line x1="433.70" y1="369.67" x2="441.30" y2="369.67" stroke="#141414" stroke-width="1.25"/>
<line x1="448.88" y1="353.63" x2="448.88" y2="366.03" stroke="#141414" stroke-width="1.25"/>
<line x1="445.07" y1="353.63" x2="452.68" y2="353.63" stroke="#141414" stroke-width="1.25"/>
<line x1="445.07" y1="366.03" x2="452.68" y2="366.03" stroke="#141414" stroke-width="1.25"/>
<line x1="460.25" y1="352.90" x2="460.25" y2="365.30" stroke="#141414" stroke-width="1.25"/>
<line x1="456.45" y1="352.90" x2="464.05" y2="352.90" stroke="#141414" stroke-width="1.25"/>
<line x1="456.45" y1="365.30" x2="464.05" y2="365.30" stroke="#141414" stroke-width="1.25"/>
<line x1="471.62" y1="352.90" x2="471.62" y2="365.30" stroke="#141414" stroke-width="1.25"/>
<line x1="467.82" y1="352.90" x2="475.43" y2="352.90" stroke="#141414" stroke-width="1.25"/>
<line x1="467.82" y1="365.30" x2="475.43" y2="365.30" stroke="#141414" stroke-width="1.25"/>
<line x1="483.00" y1="352.90" x2="483.00" y2="365.30" stroke="#141414" stroke-width="1.25"/>
<line x1="479.20" y1="352.90" x2="486.80" y2="352.90" stroke="#141414" stroke-width="1.25"/>
<line x1="479.20" y1="365.30" x2="486.80" y2="365.30" stroke="#141414" stroke-width="1.25"/>
<line x1="323.75" y1="389.72" x2="323.75" y2="401.38" stroke="#141414" stroke-width="1.25"/>
<line x1="319.95" y1="389.72" x2="327.55" y2="389.72" stroke="#141414" stroke-width="1.25"/>
<line x1="319.95" y1="401.38" x2="327.55" y2="401.38" stroke="#141414" stroke-width="1.25"/>
<line x1="335.12" y1="382.43" x2="335.12" y2="394.09" stroke="#141414" stroke-width="1.25"/>
<line x1="331.32" y1="382.43" x2="338.93" y2="382.43" stroke="#141414" stroke-width="1.25"/>
<line x1="331.32" y1="394.09" x2="338.93" y2="394.09" stroke="#141414" stroke-width="1.25"/>
<line x1="346.50" y1="378.78" x2="346.50" y2="390.45" stroke="#141414" stroke-width="1.25"/>
<line x1="342.70" y1="378.78" x2="350.30" y2="378.78" stroke="#141414" stroke-width="1.25"/>
<line x1="342.70" y1="390.45" x2="350.30" y2="390.45" stroke="#141414" stroke-width="1.25"/>
<line x1="357.88" y1="372.95" x2="357.88" y2="384.62" stroke="#141414" stroke-width="1.25"/>
<line x1="354.07" y1="372.95" x2="361.68" y2="372.95" stroke="#141414" stroke-width="1.25"/>
<line x1="354.07" y1="384.62" x2="361.68" y2="384.62" stroke="#141414" stroke-width="1.25"/>
<line x1="369.25" y1="372.22" x2="369.25" y2="383.89" stroke="#141414" stroke-width="1.25"/>
<line x1="365.45" y1="372.22" x2="373.05" y2="372.22" stroke="#141414" stroke-width="1.25"/>
<line x1="365.45" y1="383.89" x2="373.05" y2="383.89" stroke="#141414" stroke-width="1.25"/>
<line x1="380.62" y1="367.85" x2="380.62" y2="379.51" stroke="#141414" stroke-width="1.25"/>
<line x1="376.82" y1="367.85" x2="384.43" y2="367.85" stroke="#141414" stroke-width="1.25"/>
<line x1="376.82" y1="379.51" x2="384.43" y2="379.51" stroke="#141414" stroke-width="1.25"/>
<line x1="392.00" y1="364.93" x2="392.00" y2="376.60" stroke="#141414" stroke-width="1.25"/>
<line x1="388.20" y1="364.93" x2="395.80" y2="364.93" stroke="#141414" stroke-width="1.25"/>
<line x1="388.20" y1="376.60" x2="395.80" y2="376.60" stroke="#141414" stroke-width="1.25"/>
<line x1="403.38" y1="364.20" x2="403.38" y2="375.87" stroke="#141414" stroke-width="1.25"/>
<line x1="399.57" y1="364.20" x2="407.18" y2="364.20" stroke="#141414" stroke-width="1.25"/>
<line x1="399.57" y1="375.87" x2="407.18" y2="375.87" stroke="#141414" stroke-width="1.25"/>
<line x1="414.75" y1="370.76" x2="414.75" y2="382.43" stroke="#141414" stroke-width="1.25"/>
<line x1="410.95" y1="370.76" x2="418.55" y2="370.76" stroke="#141414" stroke-width="1.25"/>
<line x1="410.95" y1="382.43" x2="418.55" y2="382.43" stroke="#141414" stroke-width="1.25"/>
<line x1="426.12" y1="368.58" x2="426.12" y2="380.24" stroke="#141414" stroke-width="1.25"/>
<line x1="422.32" y1="368.58" x2="429.93" y2="368.58" stroke="#141414" stroke-width="1.25"/>
<line x1="422.32" y1="380.24" x2="429.93" y2="380.24" stroke="#141414" stroke-width="1.25"/>
<line x1="437.50" y1="364.93" x2="437.50" y2="376.60" stroke="#141414" stroke-width="1.25"/>
<line x1="433.70" y1="364.93" x2="441.30" y2="364.93" stroke="#141414" stroke-width="1.25"/>
<line x1="433.70" y1="376.60" x2="441.30" y2="376.60" stroke="#141414" stroke-width="1.25"/>
<line x1="448.88" y1="368.58" x2="448.88" y2="380.24" stroke="#141414" stroke-width="1.25"/>
<line x1="445.07" y1="368.58" x2="452.68" y2="368.58" stroke="#141414" stroke-width="1.25"/>
<line x1="445.07" y1="380.24" x2="452.68" y2="380.24" stroke="#141414" stroke-width="1.25"/>
<line x1="460.25" y1="367.85" x2="460.25" y2="379.51" stroke="#141414" stroke-width="1.25"/>
<line x1="456.45" y1="367.85" x2="464.05" y2="367.85" stroke="#141414" stroke-width="1.25"/>
<line x1="456.45" y1="379.51" x2="464.05" y2="379.51" stroke="#141414" stroke-width="1.25"/>
<line x1="471.62" y1="367.85" x2="471.62" y2="379.51" stroke="#141414" stroke-width="1.25"/>
<line x1="467.82" y1="367.85" x2="475.43" y2="367.85" stroke="#141414" stroke-width="1.25"/>
<line x1="467.82" y1="379.51" x2="475.43" y2="379.51" stroke="#141414" stroke-width="1.25"/>
<line x1="483.00" y1="366.39" x2="483.00" y2="378.05" stroke="#141414" stroke-width="1.25"/>
<line x1="479.20" y1="366.39" x2="486.80" y2="366.39" stroke="#141414" stroke-width="1.25"/>
<line x1="479.20" y1="378.05" x2="486.80" y2="378.05" stroke="#141414" stroke-width="1.25"/>
<line x1="323.75" y1="378.78" x2="323.75" y2="401.38" stroke="#141414" stroke-width="1.25"/>
<line x1="319.95" y1="378.78" x2="327.55" y2="378.78" stroke="#141414" stroke-width="1.25"/>
<line x1="319.95" y1="401.38" x2="327.55" y2="401.38" stroke="#141414" stroke-width="1.25"/>
<line x1="369.25" y1="392.63" x2="369.25" y2="402.84" stroke="#141414" stroke-width="1.25"/>
<line x1="365.45" y1="392.63" x2="373.05" y2="392.63" stroke="#141414" stroke-width="1.25"/>
<line x1="365.45" y1="402.84" x2="373.05" y2="402.84" stroke="#141414" stroke-width="1.25"/>
<path d="M323.75,387.53 L335.12,374.41 L346.50,378.78 L357.88,371.49 L369.25,371.49 L380.62,373.68 L392.00,370.03 L403.38,370.03 L414.75,367.12 L426.12,362.75 L437.50,363.47 L448.88,359.83 L460.25,359.10 L471.62,359.10 L483.00,359.10" stroke="#e29c34" stroke-width="1.6" fill="none" stroke-linejoin="round"/>
<path d="M323.75,381.70 L335.12,385.34 L346.50,377.32 L357.88,386.80 L369.25,397.01" stroke="#a8a0d0" stroke-width="1.6" fill="none" stroke-linejoin="round"/>
<path d="M323.75,395.55 L335.12,388.26 L346.50,384.62 L357.88,378.78 L369.25,378.05 L380.62,373.68 L392.00,370.76 L403.38,370.03 L414.75,376.60 L426.12,374.41 L437.50,370.76 L448.88,374.41 L460.25,373.68 L471.62,373.68 L483.00,372.22" stroke="#c01a78" stroke-width="1.6" fill="none" stroke-linejoin="round"/>
<path d="M323.75,383.53 L327.75,387.53 L323.75,391.53 L319.75,387.53 Z" fill="#d89c30" stroke="#2a1a0a" stroke-width="1.1"/>
<path d="M335.12,370.41 L339.12,374.41 L335.12,378.41 L331.12,374.41 Z" fill="#d89c30" stroke="#2a1a0a" stroke-width="1.1"/>
<path d="M346.50,374.78 L350.50,378.78 L346.50,382.78 L342.50,378.78 Z" fill="#d89c30" stroke="#2a1a0a" stroke-width="1.1"/>
<path d="M357.88,367.49 L361.88,371.49 L357.88,375.49 L353.88,371.49 Z" fill="#d89c30" stroke="#2a1a0a" stroke-width="1.1"/>
<path d="M369.25,367.49 L373.25,371.49 L369.25,375.49 L365.25,371.49 Z" fill="#d89c30" stroke="#2a1a0a" stroke-width="1.1"/>
<path d="M380.62,369.68 L384.62,373.68 L380.62,377.68 L376.62,373.68 Z" fill="#d89c30" stroke="#2a1a0a" stroke-width="1.1"/>
<path d="M392.00,366.03 L396.00,370.03 L392.00,374.03 L388.00,370.03 Z" fill="#d89c30" stroke="#2a1a0a" stroke-width="1.1"/>
<path d="M403.38,366.03 L407.38,370.03 L403.38,374.03 L399.38,370.03 Z" fill="#d89c30" stroke="#2a1a0a" stroke-width="1.1"/>
<path d="M414.75,363.12 L418.75,367.12 L414.75,371.12 L410.75,367.12 Z" fill="#d89c30" stroke="#2a1a0a" stroke-width="1.1"/>
<path d="M426.12,358.75 L430.12,362.75 L426.12,366.75 L422.12,362.75 Z" fill="#d89c30" stroke="#2a1a0a" stroke-width="1.1"/>
<path d="M437.50,359.47 L441.50,363.47 L437.50,367.47 L433.50,363.47 Z" fill="#d89c30" stroke="#2a1a0a" stroke-width="1.1"/>
<path d="M448.88,355.83 L452.88,359.83 L448.88,363.83 L444.88,359.83 Z" fill="#d89c30" stroke="#2a1a0a" stroke-width="1.1"/>
<path d="M460.25,355.10 L464.25,359.10 L460.25,363.10 L456.25,359.10 Z" fill="#d89c30" stroke="#2a1a0a" stroke-width="1.1"/>
<path d="M471.62,355.10 L475.62,359.10 L471.62,363.10 L467.62,359.10 Z" fill="#d89c30" stroke="#2a1a0a" stroke-width="1.1"/>
<path d="M483.00,355.10 L487.00,359.10 L483.00,363.10 L479.00,359.10 Z" fill="#d89c30" stroke="#2a1a0a" stroke-width="1.1"/>
<path d="M323.75,385.60 L327.65,378.77 L319.85,378.77 Z" fill="#8a88bc" stroke="#1d2a1a" stroke-width="1.1"/>
<path d="M335.12,389.24 L339.02,382.42 L331.23,382.42 Z" fill="#8a88bc" stroke="#1d2a1a" stroke-width="1.1"/>
<path d="M346.50,381.22 L350.40,374.40 L342.60,374.40 Z" fill="#8a88bc" stroke="#1d2a1a" stroke-width="1.1"/>
<path d="M357.88,390.70 L361.77,383.88 L353.98,383.88 Z" fill="#8a88bc" stroke="#1d2a1a" stroke-width="1.1"/>
<path d="M369.25,400.91 L373.15,394.08 L365.35,394.08 Z" fill="#8a88bc" stroke="#1d2a1a" stroke-width="1.1"/>
<circle cx="323.75" cy="395.55" r="3.4" fill="#c0147a" stroke="#1a1a2a" stroke-width="1.1"/>
<circle cx="335.12" cy="388.26" r="3.4" fill="#c0147a" stroke="#1a1a2a" stroke-width="1.1"/>
<circle cx="346.50" cy="384.62" r="3.4" fill="#c0147a" stroke="#1a1a2a" stroke-width="1.1"/>
<circle cx="357.88" cy="378.78" r="3.4" fill="#c0147a" stroke="#1a1a2a" stroke-width="1.1"/>
<circle cx="369.25" cy="378.05" r="3.4" fill="#c0147a" stroke="#1a1a2a" stroke-width="1.1"/>
<circle cx="380.62" cy="373.68" r="3.4" fill="#c0147a" stroke="#1a1a2a" stroke-width="1.1"/>
<circle cx="392.00" cy="370.76" r="3.4" fill="#c0147a" stroke="#1a1a2a" stroke-width="1.1"/>
<circle cx="403.38" cy="370.03" r="3.4" fill="#c0147a" stroke="#1a1a2a" stroke-width="1.1"/>
<circle cx="414.75" cy="376.60" r="3.4" fill="#c0147a" stroke="#1a1a2a" stroke-width="1.1"/>
<circle cx="426.12" cy="374.41" r="3.4" fill="#c0147a" stroke="#1a1a2a" stroke-width="1.1"/>
<circle cx="437.50" cy="370.76" r="3.4" fill="#c0147a" stroke="#1a1a2a" stroke-width="1.1"/>
<circle cx="448.88" cy="374.41" r="3.4" fill="#c0147a" stroke="#1a1a2a" stroke-width="1.1"/>
<circle cx="460.25" cy="373.68" r="3.4" fill="#c0147a" stroke="#1a1a2a" stroke-width="1.1"/>
<circle cx="471.62" cy="373.68" r="3.4" fill="#c0147a" stroke="#1a1a2a" stroke-width="1.1"/>
<circle cx="483.00" cy="372.22" r="3.4" fill="#c0147a" stroke="#1a1a2a" stroke-width="1.1"/>
<line x1="366.05" y1="410.13" x2="372.45" y2="410.13" stroke="#c01850" stroke-width="1.6"/>
<line x1="369.25" y1="406.93" x2="369.25" y2="413.33" stroke="#c01850" stroke-width="1.6"/>
<rect x="64.5" y="489.50" width="12.5" height="8.5" fill="#6aaee2"/>
<text x="80.50" y="496.85" font-size="8.7" fill="#222">TBI 300/ATS/CTX (n = 5)</text>
<rect x="64.5" y="506.00" width="12.5" height="8.5" fill="#f2c12c"/>
<text x="80.50" y="513.35" font-size="8.7" fill="#222">TBI 600/ATS/CTX (n = 7)</text>
<rect x="64.5" y="522.25" width="12.5" height="8.5" fill="#62a84a"/>
<text x="80.50" y="529.60" font-size="8.7" fill="#222">TBI 800/ATS/CTX (n = 11)</text>
<rect x="207" y="489.50" width="12.5" height="8.5" fill="#a80c2c"/>
<text x="224.25" y="496.85" font-size="8.7" fill="#222">TBI 1200/ATS/CTX (n = 11)</text>
<rect x="207" y="506.00" width="12.5" height="8.5" fill="#2d4a86"/>
<text x="224.25" y="513.35" font-size="8.7" fill="#222">TBI 1200/CTX (n = 7)</text>
<rect x="207" y="522.25" width="12.5" height="8.5" fill="#cfcfd2"/>
<text x="224.25" y="529.60" font-size="8.7" fill="#222">TBI 1200 BM (n = 16)</text>
<rect x="356.25" y="489.50" width="12.5" height="8.5" fill="#c0147a"/>
<text x="373.75" y="496.85" font-size="8.7" fill="#222">TLI/ATS/CTX (n = 10)</text>
<rect x="356.25" y="506.00" width="12.5" height="8.5" fill="#e8921e"/>
<text x="373.75" y="513.35" font-size="8.7" fill="#222">TLI/ATS (n = 13)</text>
<rect x="356.25" y="522.25" width="12.5" height="8.5" fill="#9c8cc8"/>
<text x="373.75" y="529.60" font-size="8.7" fill="#222">TLI/CTX (n = 4)</text>
<line x1="62.50" y1="546.25" x2="62.50" y2="663.80" stroke="#141414" stroke-width="1.7"/>
<line x1="61.70" y1="663.00" x2="232.50" y2="663.00" stroke="#141414" stroke-width="1.7"/>
<line x1="58.30" y1="663.00" x2="62.50" y2="663.00" stroke="#141414" stroke-width="1.4"/>
<text x="54.20" y="666.20" font-size="8.8" text-anchor="end" fill="#222">0</text>
<line x1="58.30" y1="644.25" x2="62.50" y2="644.25" stroke="#141414" stroke-width="1.4"/>
<text x="54.20" y="647.45" font-size="8.8" text-anchor="end" fill="#222">2</text>
<line x1="58.30" y1="625.50" x2="62.50" y2="625.50" stroke="#141414" stroke-width="1.4"/>
<text x="54.20" y="628.70" font-size="8.8" text-anchor="end" fill="#222">4</text>
<line x1="58.30" y1="606.75" x2="62.50" y2="606.75" stroke="#141414" stroke-width="1.4"/>
<text x="54.20" y="609.95" font-size="8.8" text-anchor="end" fill="#222">6</text>
<line x1="58.30" y1="588.00" x2="62.50" y2="588.00" stroke="#141414" stroke-width="1.4"/>
<text x="54.20" y="591.20" font-size="8.8" text-anchor="end" fill="#222">8</text>
<line x1="58.30" y1="569.25" x2="62.50" y2="569.25" stroke="#141414" stroke-width="1.4"/>
<text x="54.20" y="572.45" font-size="8.8" text-anchor="end" fill="#222">10</text>
<line x1="58.30" y1="550.50" x2="62.50" y2="550.50" stroke="#141414" stroke-width="1.4"/>
<text x="54.20" y="553.70" font-size="8.8" text-anchor="end" fill="#222">12</text>
<rect x="66.25" y="645.00" width="11.6" height="18.00" fill="#6aaee2"/>
<line x1="72.05" y1="645.00" x2="72.05" y2="636.28" stroke="#141414" stroke-width="1.3"/>
<line x1="68.85" y1="636.28" x2="75.25" y2="636.28" stroke="#141414" stroke-width="1.3"/>
<rect x="85.00" y="643.31" width="11.6" height="19.69" fill="#f2c12c"/>
<line x1="90.80" y1="643.31" x2="90.80" y2="637.69" stroke="#141414" stroke-width="1.3"/>
<line x1="87.60" y1="637.69" x2="94.00" y2="637.69" stroke="#141414" stroke-width="1.3"/>
<rect x="103.75" y="625.78" width="11.6" height="37.22" fill="#62a84a"/>
<line x1="109.55" y1="625.78" x2="109.55" y2="618.00" stroke="#141414" stroke-width="1.3"/>
<line x1="106.35" y1="618.00" x2="112.75" y2="618.00" stroke="#141414" stroke-width="1.3"/>
<rect x="122.50" y="618.00" width="11.6" height="45.00" fill="#a80c2c"/>
<line x1="128.30" y1="618.00" x2="128.30" y2="607.03" stroke="#141414" stroke-width="1.3"/>
<line x1="125.10" y1="607.03" x2="131.50" y2="607.03" stroke="#141414" stroke-width="1.3"/>
<rect x="141.25" y="581.25" width="11.6" height="81.75" fill="#2d4a86"/>
<line x1="147.05" y1="581.25" x2="147.05" y2="577.69" stroke="#141414" stroke-width="1.3"/>
<line x1="143.85" y1="577.69" x2="150.25" y2="577.69" stroke="#141414" stroke-width="1.3"/>
<rect x="160.00" y="657.00" width="11.6" height="6.00" fill="#cfcfd2"/>
<line x1="165.80" y1="657.00" x2="165.80" y2="655.50" stroke="#141414" stroke-width="1.3"/>
<line x1="162.60" y1="655.50" x2="169.00" y2="655.50" stroke="#141414" stroke-width="1.3"/>
<rect x="178.50" y="658.12" width="11.6" height="4.88" fill="#c0147a"/>
<line x1="184.30" y1="658.12" x2="184.30" y2="657.56" stroke="#141414" stroke-width="1.3"/>
<line x1="181.10" y1="657.56" x2="187.50" y2="657.56" stroke="#141414" stroke-width="1.3"/>
<rect x="197.00" y="625.03" width="11.6" height="37.97" fill="#e8921e"/>
<line x1="202.80" y1="625.03" x2="202.80" y2="617.53" stroke="#141414" stroke-width="1.3"/>
<line x1="199.60" y1="617.53" x2="206.00" y2="617.53" stroke="#141414" stroke-width="1.3"/>
<rect x="216.25" y="630.47" width="11.6" height="32.53" fill="#9c8cc8"/>
<line x1="222.05" y1="630.47" x2="222.05" y2="616.22" stroke="#141414" stroke-width="1.3"/>
<line x1="218.85" y1="616.22" x2="225.25" y2="616.22" stroke="#141414" stroke-width="1.3"/>
<text x="39.30" y="606.00" font-size="11.6" text-anchor="middle" textLength="122" lengthAdjust="spacingAndGlyphs" transform="rotate(-90 39.3 606)" fill="#222">Cumulative GVHD score</text>
<line x1="318.25" y1="548.75" x2="318.25" y2="665.05" stroke="#141414" stroke-width="1.7"/>
<line x1="317.45" y1="664.25" x2="488.00" y2="664.25" stroke="#141414" stroke-width="1.7"/>
<line x1="314.05" y1="664.25" x2="318.25" y2="664.25" stroke="#141414" stroke-width="1.4"/>
<text x="309.20" y="667.45" font-size="8.8" text-anchor="end" fill="#222">0</text>
<line x1="314.05" y1="636.25" x2="318.25" y2="636.25" stroke="#141414" stroke-width="1.4"/>
<text x="309.20" y="639.45" font-size="8.8" text-anchor="end" fill="#222">2</text>
<line x1="314.05" y1="608.25" x2="318.25" y2="608.25" stroke="#141414" stroke-width="1.4"/>
<text x="309.20" y="611.45" font-size="8.8" text-anchor="end" fill="#222">4</text>
<line x1="314.05" y1="580.25" x2="318.25" y2="580.25" stroke="#141414" stroke-width="1.4"/>
<text x="309.20" y="583.45" font-size="8.8" text-anchor="end" fill="#222">6</text>
<line x1="314.05" y1="552.25" x2="318.25" y2="552.25" stroke="#141414" stroke-width="1.4"/>
<text x="309.20" y="555.45" font-size="8.8" text-anchor="end" fill="#222">8</text>
<rect x="322.50" y="648.71" width="11.6" height="15.54" fill="#6aaee2"/>
<line x1="328.30" y1="648.71" x2="328.30" y2="636.95" stroke="#141414" stroke-width="1.3"/>
<line x1="325.10" y1="636.95" x2="331.50" y2="636.95" stroke="#141414" stroke-width="1.3"/>
<rect x="341.25" y="647.45" width="11.6" height="16.80" fill="#f2c12c"/>
<line x1="347.05" y1="647.45" x2="347.05" y2="639.47" stroke="#141414" stroke-width="1.3"/>
<line x1="343.85" y1="639.47" x2="350.25" y2="639.47" stroke="#141414" stroke-width="1.3"/>
<rect x="360.00" y="634.43" width="11.6" height="29.82" fill="#62a84a"/>
<line x1="365.80" y1="634.43" x2="365.80" y2="624.49" stroke="#141414" stroke-width="1.3"/>
<line x1="362.60" y1="624.49" x2="369.00" y2="624.49" stroke="#141414" stroke-width="1.3"/>
<rect x="378.75" y="622.53" width="11.6" height="41.72" fill="#a80c2c"/>
<line x1="384.55" y1="622.53" x2="384.55" y2="613.85" stroke="#141414" stroke-width="1.3"/>
<line x1="381.35" y1="613.85" x2="387.75" y2="613.85" stroke="#141414" stroke-width="1.3"/>
<rect x="397.50" y="588.79" width="11.6" height="75.46" fill="#2d4a86"/>
<line x1="403.30" y1="588.79" x2="403.30" y2="583.05" stroke="#141414" stroke-width="1.3"/>
<line x1="400.10" y1="583.05" x2="406.50" y2="583.05" stroke="#141414" stroke-width="1.3"/>
<rect x="416.25" y="657.95" width="11.6" height="6.30" fill="#cfcfd2"/>
<line x1="422.05" y1="657.95" x2="422.05" y2="655.43" stroke="#141414" stroke-width="1.3"/>
<line x1="418.85" y1="655.43" x2="425.25" y2="655.43" stroke="#141414" stroke-width="1.3"/>
<rect x="434.50" y="662.57" width="11.6" height="1.68" fill="#c0147a"/>
<line x1="440.30" y1="662.57" x2="440.30" y2="661.73" stroke="#141414" stroke-width="1.3"/>
<line x1="437.10" y1="661.73" x2="443.50" y2="661.73" stroke="#141414" stroke-width="1.3"/>
<rect x="453.75" y="642.55" width="11.6" height="21.70" fill="#e8921e"/>
<line x1="459.55" y1="642.55" x2="459.55" y2="636.95" stroke="#141414" stroke-width="1.3"/>
<line x1="456.35" y1="636.95" x2="462.75" y2="636.95" stroke="#141414" stroke-width="1.3"/>
<rect x="472.00" y="625.47" width="11.6" height="38.78" fill="#9c8cc8"/>
<line x1="477.80" y1="625.47" x2="477.80" y2="606.85" stroke="#141414" stroke-width="1.3"/>
<line x1="474.60" y1="606.85" x2="481.00" y2="606.85" stroke="#141414" stroke-width="1.3"/>
<text x="296.60" y="607.90" font-size="12.6" text-anchor="middle" textLength="104.6" lengthAdjust="spacingAndGlyphs" transform="rotate(-90 296.6 607.9)" fill="#222">Colonic GVHD score</text>
<line x1="110.00" y1="565.50" x2="185.50" y2="565.50" stroke="#141414" stroke-width="1.3"/>
<text x="145.00" y="560.00" font-size="8.8" text-anchor="middle" font-style="italic" textLength="32.5" lengthAdjust="spacingAndGlyphs" fill="#222">P &lt; 0.01</text>
<line x1="193.00" y1="574.50" x2="226.25" y2="574.50" stroke="#141414" stroke-width="1.3"/>
<text x="210.00" y="568.75" font-size="8.8" text-anchor="middle" font-style="italic" textLength="32.5" lengthAdjust="spacingAndGlyphs" fill="#222">P &lt; 0.05</text>
<line x1="205.00" y1="592.50" x2="223.75" y2="592.50" stroke="#141414" stroke-width="1.3"/>
<text x="214.62" y="587.50" font-size="8.8" text-anchor="middle" font-style="italic" textLength="33.25" lengthAdjust="spacingAndGlyphs" fill="#222">P = 0.79</text>
<line x1="186.25" y1="608.25" x2="204.50" y2="608.25" stroke="#141414" stroke-width="1.3"/>
<text x="195.38" y="603.00" font-size="8.8" text-anchor="middle" font-style="italic" textLength="31.75" lengthAdjust="spacingAndGlyphs" fill="#222">P &lt; 0.01</text>
<line x1="165.50" y1="647.50" x2="184.50" y2="647.50" stroke="#141414" stroke-width="1.3"/>
<text x="175.75" y="642.00" font-size="8.8" text-anchor="middle" font-style="italic" textLength="32.5" lengthAdjust="spacingAndGlyphs" fill="#222">P = 0.91</text>
<line x1="363.75" y1="572.50" x2="438.00" y2="572.50" stroke="#141414" stroke-width="1.3"/>
<text x="398.50" y="567.00" font-size="8.8" text-anchor="middle" font-style="italic" textLength="33" lengthAdjust="spacingAndGlyphs" fill="#222">P &lt; 0.05</text>
<line x1="442.50" y1="579.25" x2="476.25" y2="579.25" stroke="#141414" stroke-width="1.3"/>
<text x="459.62" y="574.25" font-size="8.8" text-anchor="middle" font-style="italic" textLength="33.25" lengthAdjust="spacingAndGlyphs" fill="#222">P &lt; 0.05</text>
<line x1="460.50" y1="598.75" x2="479.25" y2="598.75" stroke="#141414" stroke-width="1.3"/>
<text x="470.38" y="593.25" font-size="8.8" text-anchor="middle" font-style="italic" textLength="33.25" lengthAdjust="spacingAndGlyphs" fill="#222">P = 0.55</text>
<line x1="442.50" y1="627.50" x2="460.00" y2="627.50" stroke="#141414" stroke-width="1.3"/>
<text x="451.25" y="622.00" font-size="8.8" text-anchor="middle" font-style="italic" textLength="32.5" lengthAdjust="spacingAndGlyphs" fill="#222">P &lt; 0.01</text>
<line x1="422.50" y1="647.00" x2="440.75" y2="647.00" stroke="#141414" stroke-width="1.3"/>
<text x="431.50" y="641.25" font-size="8.8" text-anchor="middle" font-style="italic" textLength="33" lengthAdjust="spacingAndGlyphs" fill="#222">P = 0.10</text>
<text x="59.73" y="696.30" font-size="12.4" text-anchor="middle" fill="#222">TBI 800/</text>
<text x="59.73" y="711.30" font-size="12.4" text-anchor="middle" fill="#222">ATS/CTX</text>
<text x="59.73" y="726.00" font-size="12.4" text-anchor="middle" fill="#222">+</text>
<text x="59.73" y="739.60" font-size="12.4" text-anchor="middle" fill="#222">BMT</text>
<text x="159.95" y="696.30" font-size="12.4" text-anchor="middle" fill="#222">TBI 1200/</text>
<text x="159.95" y="711.30" font-size="12.4" text-anchor="middle" fill="#222">ATS/CTX</text>
<text x="159.95" y="726.00" font-size="12.4" text-anchor="middle" fill="#222">+</text>
<text x="159.95" y="739.60" font-size="12.4" text-anchor="middle" fill="#222">BMT</text>
<text x="260.80" y="711.30" font-size="12.4" text-anchor="middle" fill="#222">TBI 1200</text>
<text x="260.80" y="726.00" font-size="12.4" text-anchor="middle" fill="#222">+</text>
<text x="260.80" y="739.60" font-size="12.4" text-anchor="middle" fill="#222">BM</text>
<text x="361.20" y="711.30" font-size="12.4" text-anchor="middle" fill="#222">TLI/ATS/CTX</text>
<text x="361.20" y="726.00" font-size="12.4" text-anchor="middle" fill="#222">+</text>
<text x="361.20" y="739.60" font-size="12.4" text-anchor="middle" fill="#222">BMT</text>
<text x="461.70" y="711.30" font-size="12.4" text-anchor="middle" fill="#222">TLI/CTX</text>
<text x="461.70" y="726.00" font-size="12.4" text-anchor="middle" fill="#222">+</text>
<text x="461.70" y="739.60" font-size="12.4" text-anchor="middle" fill="#222">BMT</text>
<text x="0" y="0" font-size="16.8" font-weight="bold" fill="#111" style="stroke:none" transform="translate(11.9 26.2) scale(0.9 1)">A</text>
<text x="0" y="0" font-size="16.8" font-weight="bold" fill="#111" style="stroke:none" transform="translate(11.9 267.6) scale(0.9 1)">B</text>
<text x="0" y="0" font-size="16.8" font-weight="bold" fill="#111" style="stroke:none" transform="translate(11.9 503.6) scale(0.9 1)">C</text>
<text x="0" y="0" font-size="16.8" font-weight="bold" fill="#111" style="stroke:none" transform="translate(11.9 699.6) scale(0.9 1)">D</text>
</svg>
</body></html>
